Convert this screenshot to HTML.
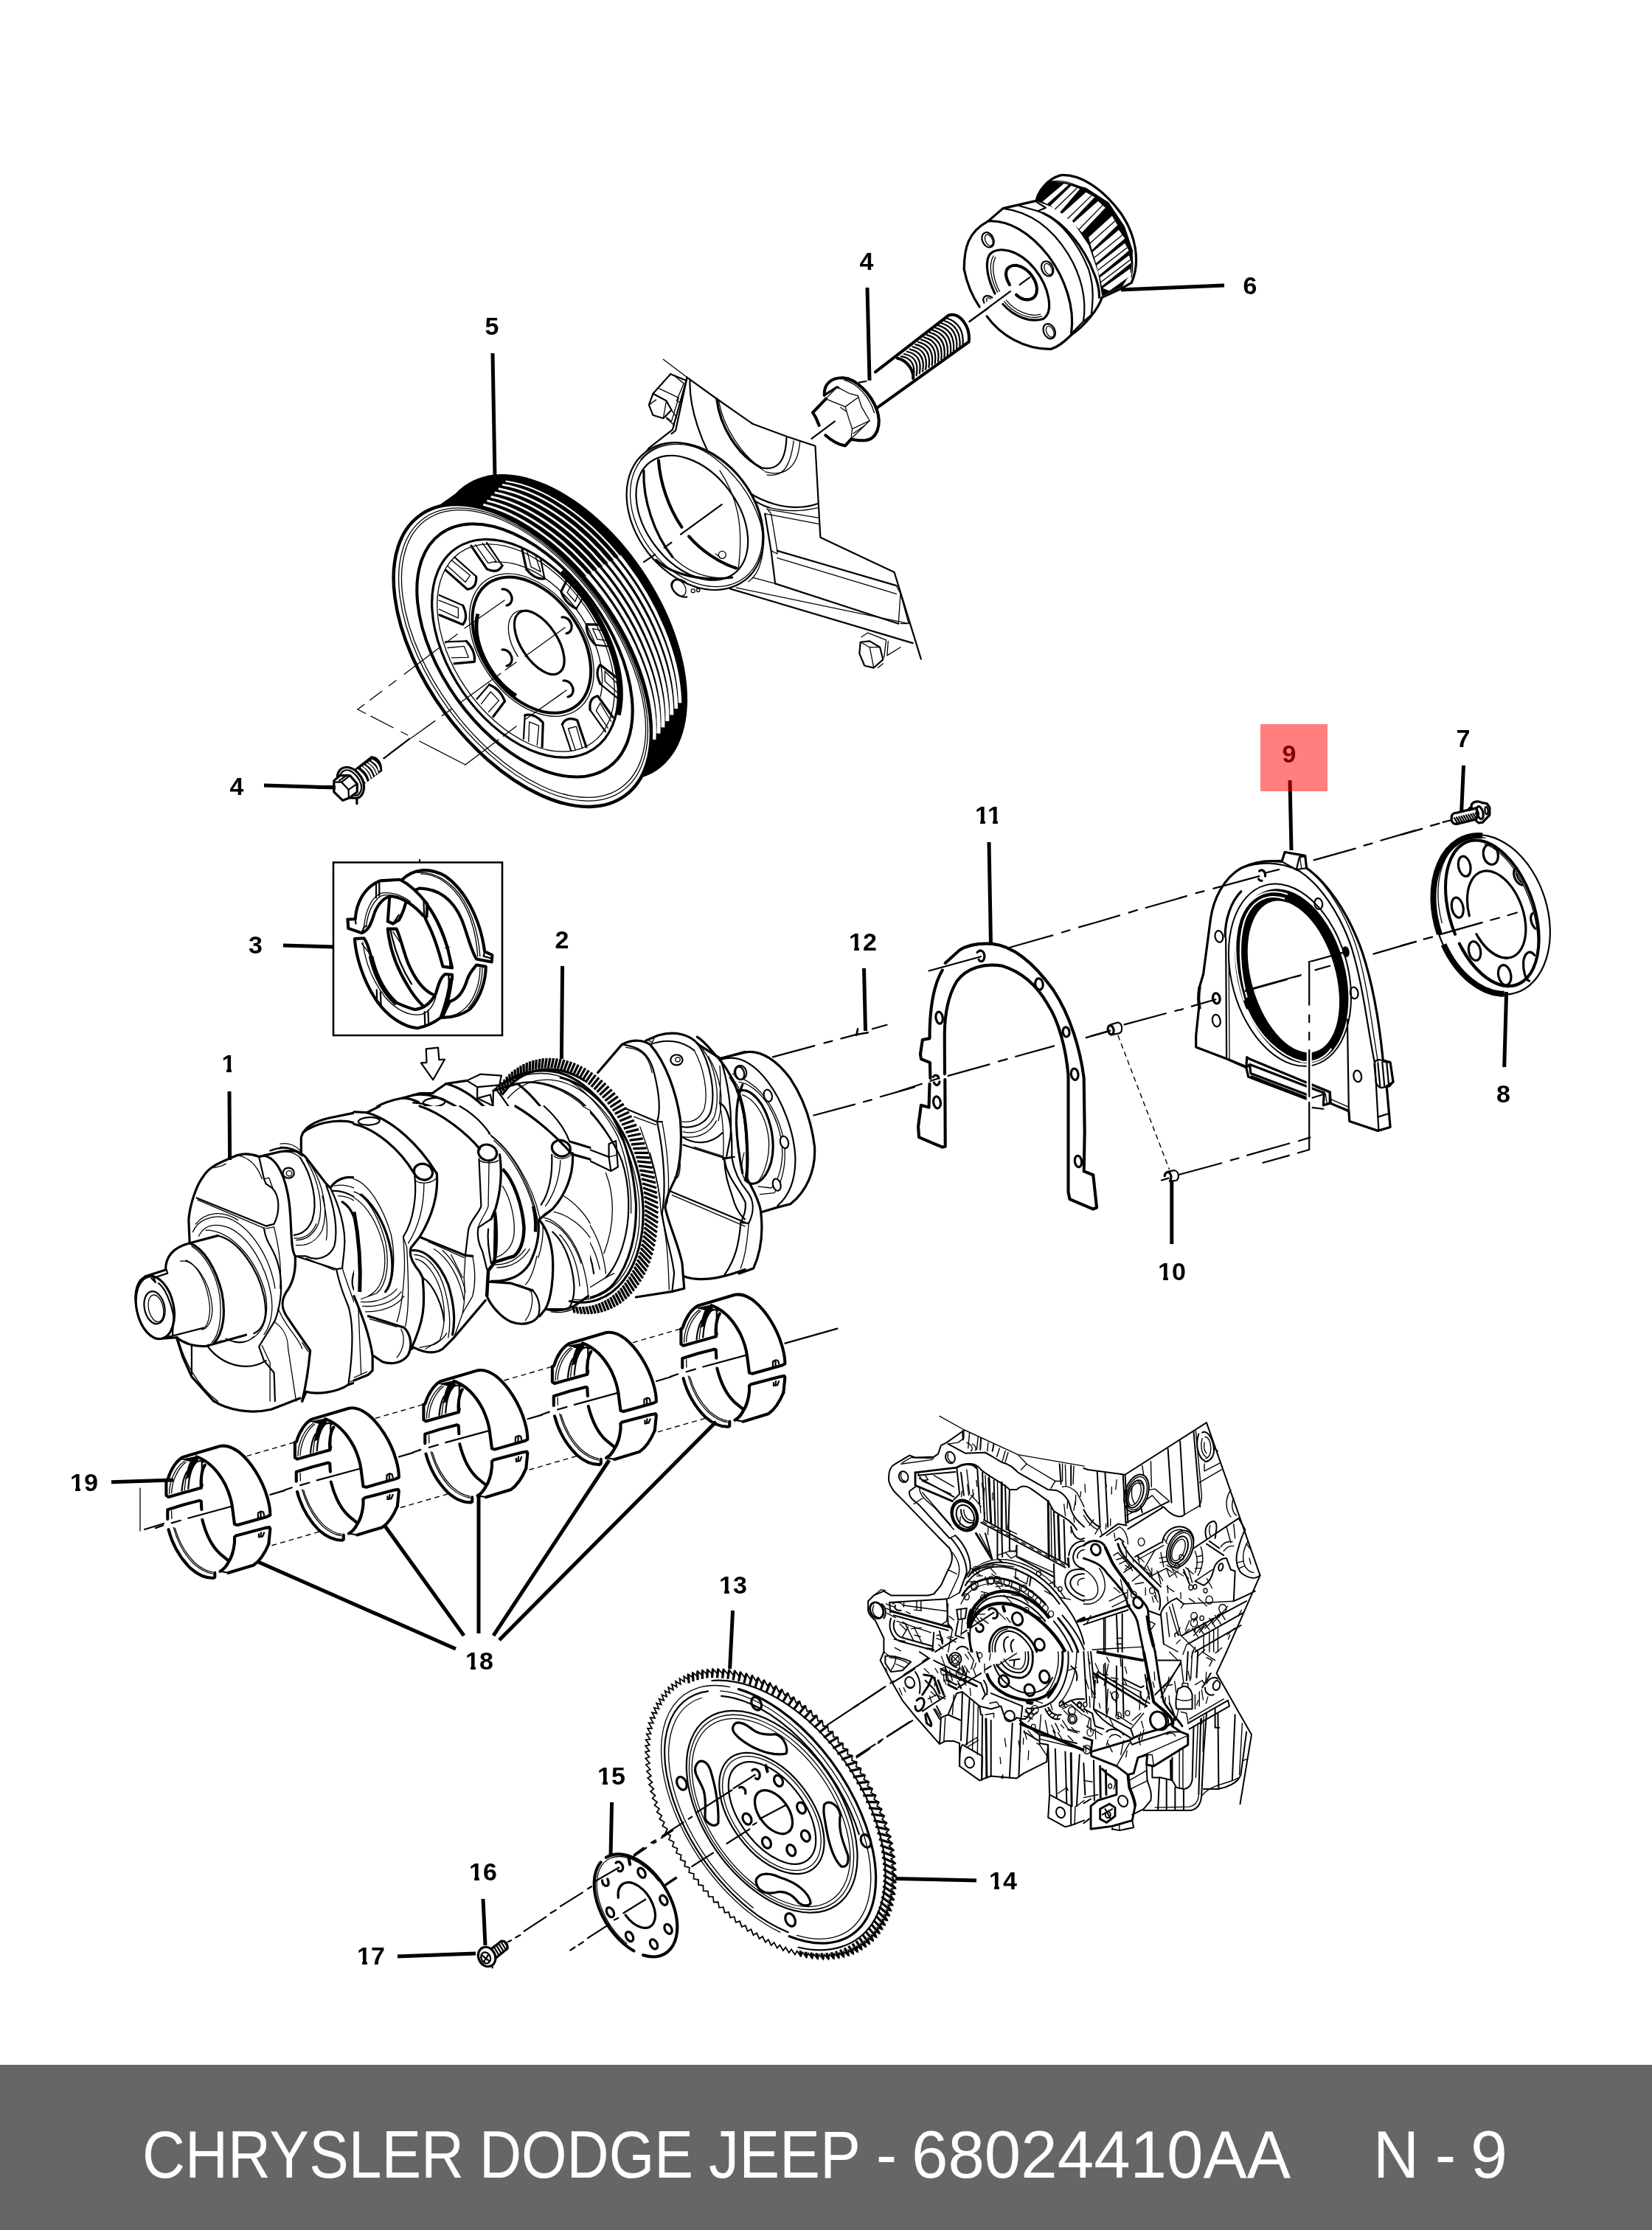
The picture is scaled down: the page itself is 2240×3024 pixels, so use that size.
<!DOCTYPE html>
<html><head><meta charset="utf-8"><title>Parts diagram</title>
<style>
html,body{margin:0;padding:0;background:#fff;}
body{width:2240px;height:3024px;overflow:hidden;font-family:"Liberation Sans",sans-serif;}
svg{display:block;position:absolute;left:0;top:0;}
.l{fill:none;stroke:#000;stroke-width:2.2;stroke-linecap:round;stroke-linejoin:round;}
.t{fill:none;stroke:#000;stroke-width:1.3;stroke-linecap:round;stroke-linejoin:round;}
.m{fill:none;stroke:#000;stroke-width:3.2;stroke-linecap:round;stroke-linejoin:round;}
.h{fill:none;stroke:#000;stroke-width:4.1;stroke-linecap:round;stroke-linejoin:round;}
.w{fill:#fff;stroke:#000;stroke-width:2.2;stroke-linecap:round;stroke-linejoin:round;}
.wm{fill:#fff;stroke:#000;stroke-width:3.2;stroke-linecap:round;stroke-linejoin:round;}
.wt{fill:#fff;stroke:#000;stroke-width:1.3;stroke-linecap:round;stroke-linejoin:round;}
.k{fill:#000;stroke:none;}
.ld{fill:none;stroke:#000;stroke-width:5;stroke-linecap:butt;}
.d{fill:none;stroke:#000;stroke-width:1.6;stroke-dasharray:46 12;}
.ds{fill:none;stroke:#000;stroke-width:1.4;stroke-dasharray:7 5;}
path,ellipse,line,circle,polyline,polygon,rect{vector-effect:non-scaling-stroke;}
.blk .l{stroke-width:2.0;}
.blk .m{stroke-width:2.9;}
.blk .t{stroke-width:1.4;}
.n{font-family:"Liberation Sans",sans-serif;font-weight:bold;font-size:34px;fill:#000;text-anchor:middle;}
</style></head><body>
<svg width="2240" height="3024" viewBox="0 0 2240 3024">
<rect x="0" y="0" width="2240" height="3024" fill="#ffffff"/>
<!-- 00_footer.svg -->
<rect x="0" y="2800" width="2240" height="224" fill="#666666"/>
<g font-family="Liberation Sans, sans-serif" font-size="91" fill="#ffffff" lengthAdjust="spacingAndGlyphs">
<text x="193" y="2953" textLength="436" lengthAdjust="spacingAndGlyphs">CHRYSLER</text>
<text x="650" y="2953" textLength="290" lengthAdjust="spacingAndGlyphs">DODGE</text>
<text x="961" y="2953" textLength="206" lengthAdjust="spacingAndGlyphs">JEEP</text>
<text x="1188" y="2953" textLength="28" lengthAdjust="spacingAndGlyphs">-</text>
<text x="1236" y="2953" textLength="514" lengthAdjust="spacingAndGlyphs">68024410AA</text>
<text x="1862" y="2953" textLength="62" lengthAdjust="spacingAndGlyphs">N</text>
<text x="1946" y="2953" textLength="28" lengthAdjust="spacingAndGlyphs">-</text>
<text x="1994" y="2953" textLength="50" lengthAdjust="spacingAndGlyphs">9</text>
</g>

<!-- 10_sprocket.svg -->
<g transform="translate(1280,220) scale(0.18159)">
<!-- teeth region background black -->
<path class="k" d="M690 290 L720 200 L800 140 L900 150 L1060 190 L1230 300 L1350 480 L1410 660 L1400 820 L1330 930 L1180 1000 L1150 820 L1080 620 L960 440 L820 340 Z"/>
<!-- white tooth faces -->
<g fill="#fff" stroke="none">
<path d="M795 325 L950 175 L1015 200 L865 375Z"/>
<path d="M880 385 L1060 225 L1125 260 L950 445Z"/>
<path d="M965 455 L1150 290 L1205 340 L1030 525Z"/>
<path d="M1080 560 L1255 400 L1295 470 L1105 655Z"/>
<path d="M1110 670 L1305 505 L1350 570 L1135 755Z"/>
<path d="M1140 770 L1350 605 L1380 660 L1158 845Z"/>
<path d="M1165 860 L1382 695 L1398 750 L1178 925Z"/>
<path d="M1185 940 L1390 795 L1395 845 L1235 960Z"/>
<path d="M735 295 L895 160 L930 168 L770 312Z"/>
</g>
<g class="t" stroke="#000">
<path d="M830 350 L990 195"/><path d="M925 420 L1100 250"/><path d="M1010 500 L1185 320"/><path d="M1085 610 L1275 440"/><path d="M1125 710 L1330 545"/><path d="M1150 805 L1365 640"/><path d="M1172 895 L1390 730"/>
</g>
<!-- outer rear rim -->
<path class="m" d="M690 285 C700 230 760 130 870 97 C1010 85 1180 190 1320 380 C1430 540 1470 740 1400 900"/>
<path class="t" d="M780 150 C900 110 1100 190 1270 390 C1380 530 1430 700 1400 860"/>
<!-- flange side -->
<path class="m" d="M150 800 C150 640 180 520 330 440 L440 345 L680 290"/>
<path class="m" d="M330 440 C480 430 640 520 780 700 C900 860 980 1080 950 1280"/>
<path class="l" d="M440 345 C640 370 800 480 930 690 C1020 840 1070 1020 1040 1190"/>
<path class="l" d="M560 325 L700 365 L760 340 L680 290"/>
<path class="m" d="M740 380 C900 450 1050 640 1120 830 C1150 900 1160 960 1160 1010"/>
<path class="l" d="M700 365 C860 420 1000 600 1080 800 C1110 900 1120 980 1100 1140"/>
<path class="m" d="M1400 900 L1330 940 L1180 1010 C1150 1100 1050 1220 950 1290 C900 1340 850 1380 800 1395"/>
<path class="l" d="M1100 1140 L1040 1190 L950 1280"/>
<!-- front face outline -->
<path class="m" d="M150 800 C170 900 210 1000 265 1080"/>
<path class="m" d="M320 1150 C420 1290 600 1400 800 1395"/>
<!-- recess -->
<path class="m" d="M380 980 C330 880 300 760 340 690 C400 620 560 650 680 800 C790 940 820 1120 740 1170 C640 1200 520 1150 440 1060"/>
<path class="t" d="M400 970 C350 880 330 760 370 700"/><path class="t" d="M415 965 C370 880 350 770 385 710"/>
<path class="t" d="M450 1040 C520 1130 640 1180 730 1150"/><path class="t" d="M465 1030 C530 1110 640 1160 720 1135"/>
<path class="h" d="M490 915 C440 830 460 770 540 770 C640 790 710 900 690 980 C670 1040 590 1040 540 990"/>
<!-- holes -->
<ellipse class="l" cx="328" cy="580" rx="42" ry="58" transform="rotate(-25 328 580)"/>
<ellipse class="t" cx="335" cy="582" rx="26" ry="44" transform="rotate(-25 335 582)"/>
<ellipse class="l" cx="772" cy="795" rx="42" ry="58" transform="rotate(-25 772 795)"/>
<ellipse class="t" cx="778" cy="798" rx="26" ry="44" transform="rotate(-25 778 798)"/>
<ellipse class="l" cx="786" cy="1262" rx="42" ry="58" transform="rotate(-25 786 1262)"/>
<ellipse class="t" cx="792" cy="1265" rx="26" ry="44" transform="rotate(-25 792 1265)"/>
<path class="l" d="M300 1050 C280 1010 310 980 360 1010"/><path class="t" d="M320 1040 C310 1015 330 1005 350 1020"/>
<!-- axis line -->
<path class="l" d="M565 915 L640 860"/>
<path class="l" d="M190 1190 L495 965"/>
</g>

<!-- 11_bolt4.svg -->
<g transform="translate(1080,410) scale(0.15738)">
<path class="h" d="M680 600 L1310 112 C1400 80 1500 200 1485 340 L700 905"/>
<path class="h" d="M870 482 C950 500 1010 580 1005 655"/>
<path class="l" d="M902 465 Q1038 489 1007 648"/>
<path class="l" d="M927 445 Q1064 470 1033 630"/>
<path class="l" d="M951 424 Q1089 451 1060 612"/>
<path class="l" d="M976 404 Q1115 432 1087 595"/>
<path class="l" d="M1000 383 Q1140 413 1113 578"/>
<path class="l" d="M1025 363 Q1166 394 1140 560"/>
<path class="l" d="M1049 342 Q1191 375 1167 542"/>
<path class="l" d="M1074 322 Q1217 356 1193 525"/>
<path class="l" d="M1098 301 Q1242 337 1220 508"/>
<path class="l" d="M1122 280 Q1268 318 1247 490"/>
<path class="l" d="M1147 260 Q1294 299 1273 472"/>
<path class="l" d="M1171 239 Q1319 280 1300 455"/>
<path class="l" d="M1196 219 Q1345 261 1327 438"/>
<path class="l" d="M1220 198 Q1370 242 1353 420"/>
<path class="l" d="M1245 178 Q1396 223 1380 402"/>
<path class="l" d="M1269 157 Q1421 204 1407 385"/>
<path class="l" d="M1294 137 Q1447 185 1433 368"/>
<path class="h" d="M240 800 C235 700 300 650 400 650 C520 660 640 790 690 920 C740 1060 690 1180 590 1190 L540 1190"/>
<path class="t" d="M410 670 C530 700 630 820 670 950"/><path class="t" d="M425 665 C545 690 650 800 690 940"/>
<path class="l" d="M540 690 L600 680"/>
<path class="m" d="M240 800 L350 730 L360 735"/>
<path class="t" d="M360 735 L455 785 L530 805 L560 900 L630 1020 L470 1175"/>
<path class="t" d="M255 830 L350 730"/>
<path class="t" d="M230 855 L260 835 L420 900 L530 820"/>
<path class="t" d="M420 900 L450 1000 L480 1090 L470 1175"/>
<path class="t" d="M380 905 L430 940"/>
<path class="t" d="M480 1090 L630 1020"/><path class="t" d="M490 1130 L590 1060"/>
<path class="h" d="M255 830 L140 950 L165 990 L195 1060"/>
<path class="h" d="M250 1145 C300 1190 360 1225 420 1235 L470 1180 L540 1190"/>
<path class="l" d="M130 1175 L330 1025"/>
<path class="l" d="M1490 165 L1652 50"/>
</g>

<!-- 15_cover.svg -->
<g transform="translate(820,460) scale(0.27847)">
<!-- top edge & right side -->
<path class="t" d="M285 98 L400 185"/>
<path class="l" d="M400 185 L545 290 L720 412 L890 475 L1025 520 L1050 965 L1410 1135 L1470 1330 L1540 1557"/>
<!-- left upper boss -->
<path class="l" d="M400 190 L330 440 L215 530 L175 585"/>
<path class="l" d="M415 200 C410 330 470 520 560 640 C640 740 740 800 800 820"/>
<path class="l" d="M400 190 L345 445 L325 460"/>
<path class="l" d="M320 170 L395 200"/><path class="t" d="M335 175 L385 215 L350 300 L370 310"/>
<path class="l" d="M320 170 L235 265"/><path class="t" d="M265 240 L360 285 L325 400 L300 380"/>
<!-- bolt hex -->
<path class="l" d="M235 265 L215 320 L235 370 L285 385 L325 345 L300 300 Z"/>
<path class="t" d="M235 265 L300 300 L285 385"/><path class="t" d="M215 320 L250 295"/>
<path class="t" d="M325 345 L350 380 L335 410"/><path class="t" d="M300 385 L340 420"/>
<!-- inner curve web -->
<path class="m" d="M545 290 C560 420 640 560 760 625"/>
<path class="l" d="M760 625 C820 640 880 620 885 480"/>
<path class="t" d="M780 645 C860 670 940 640 950 500"/><path class="t" d="M790 660 C850 670 900 650 920 495"/>
<path class="t" d="M555 300 C575 420 660 560 775 640"/>
<path class="l" d="M640 700 C740 790 900 850 1040 800"/>
<path class="t" d="M800 820 C880 840 960 840 1040 820"/>
<path class="t" d="M780 850 L1045 900"/><path class="t" d="M800 830 L1045 870"/>
<!-- body -->
<path class="l" d="M780 850 L810 1030 L830 1190"/><path class="t" d="M790 825 L810 850 L840 1030"/>
<path class="t" d="M810 1030 L840 1045 L840 1025"/>
<path class="l" d="M840 1030 L1420 1200"/><path class="l" d="M830 1190 L1430 1385"/>
<path class="t" d="M1420 1200 L1440 1240 L1430 1385"/>
<path class="t" d="M1420 1240 L840 1065"/>
<path class="l" d="M610 1215 L1500 1480"/><path class="t" d="M640 1210 L1480 1385 L1440 1385"/>
<path class="t" d="M720 1160 L830 1190"/>
<path class="t" d="M1440 1240 L1480 1385"/>
<!-- big ring -->
<ellipse class="w" cx="440" cy="862" rx="395" ry="290" transform="rotate(52 440 862)"/>
<ellipse class="t" cx="446" cy="858" rx="383" ry="278" transform="rotate(52 446 858)"/>
<ellipse class="l" cx="425" cy="870" rx="340" ry="225" transform="rotate(53 425 870)"/>
<path class="t" d="M175 585 C220 530 290 500 360 505 C520 520 700 700 760 900 C790 1020 760 1140 700 1180"/>
<path class="h" d="M262 590 C270 700 310 820 375 915"/>
<path class="h" d="M410 960 C470 1030 560 1090 640 1115"/>
<path class="m" d="M190 640 C185 780 240 950 330 1060"/>
<path class="m" d="M250 1075 C330 1150 480 1180 620 1160"/>
<path class="t" d="M330 1060 C420 1150 520 1170 620 1160"/>
<path class="t" d="M560 640 C640 760 680 900 650 1120"/>
<circle class="t" cx="572" cy="1050" r="18"/><path class="t" d="M540 1045 L560 1060"/>
<!-- axis -->
<path class="l" d="M370 950 L570 805"/><path class="l" d="M290 1015 L325 990"/><path class="l" d="M190 1085 L245 1048"/>
<!-- lower stud -->
<path class="l" d="M400 1255 C360 1260 320 1220 325 1190 C335 1160 375 1165 400 1190"/>
<ellipse class="t" cx="362" cy="1212" rx="30" ry="42" transform="rotate(-30 362 1212)"/>
<path class="t" d="M400 1190 L460 1215"/><circle class="t" cx="430" cy="1225" r="9"/><circle class="t" cx="455" cy="1222" r="8"/>
<!-- right-bottom bolt -->
<path class="l" d="M1245 1475 L1240 1530 L1265 1590 L1310 1600 L1355 1560 L1340 1500 L1290 1470 Z"/>
<path class="t" d="M1245 1475 L1290 1500 L1340 1500"/><path class="t" d="M1290 1500 L1310 1600"/>
<path class="t" d="M1250 1450 L1280 1430 L1370 1465 L1360 1550"/>
<path class="t" d="M1380 1470 L1375 1540 L1440 1500"/>
<path class="t" d="M1330 1600 L1355 1580"/>
</g>

<!-- 20_pulley.svg -->
<path class="k" d="M617.7 669.2 A233.0 135.0 56.4 1 1 863.7 1056.4 L803.3 1093.8 L803.3 1093.8 A235.5 130.5 53.7 1 0 552.7 715.5 Z"/>
<path class="" d="M655.3 684.3 A235.3 130.9 53.9 0 1 798.6 782.8" fill="none" stroke="#fff" stroke-width="3.0"/>
<path class="" d="M795.9 779.7 A235.3 130.9 53.9 0 1 886.8 1002.9" fill="none" stroke="#fff" stroke-width="5.2"/>
<path class="" d="M660.4 678.8 A235.0 131.4 54.3 0 1 805.9 778.5" fill="none" stroke="#fff" stroke-width="2.8"/>
<path class="" d="M803.3 775.4 A235.0 131.4 54.3 0 1 892.9 994.7" fill="none" stroke="#fff" stroke-width="5.0"/>
<path class="" d="M665.6 673.3 A234.7 132.0 54.6 0 1 813.3 774.1" fill="none" stroke="#fff" stroke-width="2.8"/>
<path class="" d="M810.7 771.0 A234.7 132.0 54.6 0 1 898.9 986.4" fill="none" stroke="#fff" stroke-width="5.0"/>
<path class="" d="M670.7 667.9 A234.4 132.5 54.9 0 1 820.7 769.8" fill="none" stroke="#fff" stroke-width="2.8"/>
<path class="" d="M818.1 766.7 A234.4 132.5 54.9 0 1 904.9 978.0" fill="none" stroke="#fff" stroke-width="5.0"/>
<path class="" d="M675.8 662.6 A234.1 133.1 55.2 0 1 828.0 765.4" fill="none" stroke="#fff" stroke-width="2.8"/>
<path class="" d="M825.4 762.3 A234.1 133.1 55.2 0 1 910.8 969.5" fill="none" stroke="#fff" stroke-width="5.0"/>
<path class="" d="M681.0 657.3 A233.8 133.6 55.6 0 1 835.4 761.1" fill="none" stroke="#fff" stroke-width="2.6"/>
<path class="" d="M832.8 758.0 A233.8 133.6 55.6 0 1 916.8 961.0" fill="none" stroke="#fff" stroke-width="4.8"/>
<path class="" d="M685.7 652.5 A233.5 134.1 55.9 0 1 842.1 757.2" fill="none" stroke="#fff" stroke-width="2.2"/>
<path class="" d="M839.6 754.0 A233.5 134.1 55.9 0 1 922.1 953.2" fill="none" stroke="#fff" stroke-width="4.4"/>
<ellipse class="" cx="708.3" cy="889.0" rx="235.5" ry="130.5" transform="rotate(53.7 708.3 889.0)" fill="#fff" stroke="#000" stroke-width="4.5"/>
<ellipse class="t" cx="709.5" cy="887.5" rx="228.5" ry="125.5" transform="rotate(53.7 709.5 887.5)" />
<ellipse class="t" cx="710.0" cy="886.5" rx="224.5" ry="122.5" transform="rotate(53.7 710.0 886.5)" />
<ellipse class="h" cx="711.5" cy="882.0" rx="195.0" ry="113.0" transform="rotate(54.3 711.5 882.0)" />
<ellipse class="m" cx="712.0" cy="879.3" rx="165.0" ry="103.0" transform="rotate(55.4 712.0 879.3)" />
<ellipse class="t" cx="713.0" cy="878.5" rx="157.0" ry="98.0" transform="rotate(55.4 713.0 878.5)" />
<path class="" d="M761.2 775.2 A169.0 106.0 55.4 0 1 838.7 969.7" fill="none" stroke="#000" stroke-width="6"/>
<path class="m" d="M604.3 773.1 L633.7 799.1 Q646.7 797.7 645.7 781.8"/>
<path class="l" d="M645.7 781.8 L616.3 755.5"/>
<path class="t" d="M607.1 767.8 L631.1 789.4 L637.5 780.2 L612.5 759.8"/>
<path class="m" d="M639.0 740.3 L660.4 771.8 Q675.1 778.5 681.1 767.0"/>
<path class="l" d="M681.1 767.0 L660.0 735.9"/>
<path class="t" d="M644.5 738.5 L661.9 763.7 L672.9 761.1 L654.0 736.5"/>
<path class="m" d="M708.0 745.2 L713.9 772.3 Q725.7 786.8 738.4 784.6"/>
<path class="l" d="M738.4 784.6 L733.2 758.7"/>
<path class="t" d="M714.9 748.4 L720.1 768.8 L733.1 775.3 L726.3 754.4"/>
<path class="m" d="M768.2 787.2 L760.8 802.2 Q766.8 819.0 781.5 825.3"/>
<path class="l" d="M781.5 825.3 L789.7 811.8"/>
<path class="t" d="M774.4 793.6 L769.1 803.5 L780.0 815.8 L784.1 804.7"/>
<path class="m" d="M812.3 847.1 L795.3 846.7 Q794.5 861.9 807.6 874.7"/>
<path class="l" d="M807.6 874.7 L825.4 876.5"/>
<path class="t" d="M816.4 855.1 L803.6 852.4 L810.1 867.2 L822.3 868.3"/>
<path class="m" d="M835.8 918.8 L813.9 901.5 Q806.0 911.1 814.1 927.6"/>
<path class="l" d="M814.1 927.6 L836.5 945.9"/>
<path class="t" d="M836.5 926.5 L820.1 910.3 L820.3 924.1 L836.8 938.7"/>
<path class="m" d="M831.1 972.7 L810.5 943.8 Q798.1 946.5 800.2 962.8"/>
<path class="l" d="M800.2 962.8 L821.0 992.2"/>
<path class="t" d="M828.8 978.5 L813.8 953.5 L808.3 963.6 L824.3 987.3"/>
<path class="m" d="M795.0 1012.9 L782.7 976.8 Q768.1 970.5 762.3 982.3"/>
<path class="l" d="M762.3 982.3 L774.3 1018.0"/>
<path class="t" d="M789.6 1014.9 L781.4 985.1 L770.5 988.0 L780.3 1017.2"/>
<path class="m" d="M735.1 1012.9 L736.3 979.8 Q723.7 966.2 711.8 969.9"/>
<path class="l" d="M711.8 969.9 L709.9 1001.9"/>
<path class="t" d="M728.2 1010.5 L730.7 984.1 L717.7 978.9 L716.8 1005.5"/>
<path class="m" d="M668.8 971.7 L684.6 950.8 Q678.1 934.0 663.4 928.4"/>
<path class="l" d="M663.4 928.4 L646.7 947.8"/>
<path class="t" d="M662.5 965.5 L676.5 949.9 L665.3 938.0 L652.5 954.7"/>
<path class="m" d="M616.1 899.8 L643.4 897.3 Q645.0 882.5 632.3 869.3"/>
<path class="l" d="M632.3 869.3 L604.1 870.3"/>
<path class="t" d="M612.3 891.8 L635.3 891.3 L629.3 876.4 L606.9 878.5"/>
<path class="m" d="M596.1 833.9 L627.6 846.9 Q635.6 837.4 627.6 820.9"/>
<path class="l" d="M627.6 820.9 L595.6 806.9"/>
<path class="t" d="M595.4 826.2 L621.4 838.1 L621.4 824.3 L595.2 814.1"/>
<path class="t" d="M671.0 762.4 A128.0 82.0 55.0 0 1 814.2 944.3" />
<ellipse class="t" cx="720.8" cy="874.7" rx="107.4" ry="70.3" transform="rotate(54.9 720.8 874.7)" fill="#fff"/>
<ellipse class="" cx="720.8" cy="874.7" rx="102.4" ry="66.8" transform="rotate(54.9 720.8 874.7)" fill="#fff" stroke="#000" stroke-width="4"/>
<path class="" d="M699.8 943.4 A88.4 58.8 54.9 0 1 647.9 832.3" fill="none" stroke="#000" stroke-width="5"/>
<ellipse class="m" cx="731.3" cy="871.4" rx="48.9" ry="24.6" transform="rotate(56.7 731.3 871.4)" />
<path class="t" d="M702.3 890.3 A51.9 29.6 56.7 0 1 740.5 843.9" />
<path class="m" d="M681.0 799.0 a9.5 11.5 -30 1 1 6 22"/>
<path class="m" d="M762.0 837.0 a9.5 11.5 -30 1 1 6 22"/>
<path class="m" d="M681.0 881.0 a9.5 11.5 -30 1 1 6 22"/>
<path class="m" d="M764.0 923.0 a9.5 11.5 -30 1 1 6 22"/>
<path class="t" d="M684 814L630 852"/>
<path class="t" d="M766 851L712 890"/>
<path class="t" d="M768 936L713 975"/>
<path class="t" stroke-dasharray="20 10 60 14 12 12" d="M620 860L485 962"/>
<path class="t" stroke-dasharray="18 8 70 12 16 12 40 14 22 10" d="M700 898L520 1028"/>
<path class="t" stroke-dasharray="22 8 62 4" d="M700 985L631 1037"/>
<path class="t" stroke-dasharray="70 18 10 12 34 8" d="M631 1037L485 962"/>

<!-- 21_bolt4b.svg -->
<g transform="translate(430,1000) scale(0.07869)">
<!-- threaded shaft -->
<path class="k" d="M650 540 L930 320 C1040 320 1130 420 1120 580 L820 800 L750 780 C740 690 700 600 650 540Z"/>
<g fill="none" stroke="#fff" stroke-width="2.6" stroke-linecap="round">
<path d="M700 570 C770 620 820 690 840 760" stroke-width="3.4"/>
<path d="M770 520 C840 570 890 640 910 720"/>
<path d="M810 495 C880 540 930 610 950 680"/>
<path d="M860 460 C930 500 980 570 1000 640"/>
<path d="M900 430 C970 470 1020 540 1040 610"/>
<path d="M950 395 C1020 430 1060 490 1070 560"/>
</g>
<!-- flange -->
<path class="wm" stroke-width="4.5" d="M350 700 C340 580 420 510 520 515 C640 520 760 640 800 790 C830 930 760 1040 680 1045 L560 1040 Z"/>
<path class="l" d="M400 640 C430 570 500 550 560 570 C660 620 730 720 760 820 C780 920 720 1010 650 1000"/>
<!-- hex head -->
<path class="wm" stroke-width="4.5" d="M290 745 L345 700 L390 655 L565 655 L690 800 L690 940 L560 1040 L440 1085 L290 940 Z"/>
<path class="l" d="M380 745 L500 660"/><path class="l" d="M300 770 L420 770 L540 900 L690 800"/>
<path class="l" d="M420 770 L550 670"/><path class="l" d="M540 900 L545 1030"/>
<path class="ld" d="M0 858 L300 858"/>
<path class="m" d="M685 1050 L685 1140"/>
<path class="l" d="M1150 360 L1595 20"/>
</g>

<!-- 25_box3.svg -->
<rect x="452" y="1169.5" width="229" height="234.5" fill="none" stroke="#000" stroke-width="2.6"/>
<path class="l" d="M569 1166 L569 1169"/>
<g transform="translate(440,1155) scale(0.15738)">
<!-- B upper-right (behind) -->
<path class="h" d="M670 240 C760 150 900 130 1040 210 C1200 320 1340 560 1380 860 L1445 890 L1440 950 L1310 925 C1260 850 1230 700 1180 580 C1100 400 980 320 820 315 L780 330"/>
<path class="t" d="M800 180 C950 170 1100 260 1200 420 C1290 570 1330 750 1340 900"/>
<path class="t" d="M830 190 C970 190 1110 290 1200 450 C1280 590 1310 750 1320 900"/>
<path class="l" d="M1380 860 L1370 900 L1440 920"/>
<!-- A upper-left -->
<path class="h" d="M200 583 L265 580 C275 430 350 300 480 250 L650 240 C750 290 830 380 885 450 L880 560"/>
<path class="h" d="M200 583 L205 660 L320 700 C380 680 400 620 420 560 C450 450 520 380 590 385 C680 395 780 470 850 550"/>
<path class="t" d="M340 650 C350 520 400 400 480 360 C560 340 660 370 740 430"/>
<path class="t" d="M360 640 C370 530 420 420 490 380 C560 360 650 385 720 440"/>
<path class="l" d="M445 275 L445 395"/><path class="l" d="M472 268 L472 380"/>
<path class="l" d="M855 430 L858 550"/><path class="l" d="M265 580 L270 620"/>
<path class="l" d="M320 700 L340 650 L360 640"/>
<!-- C -->
<path class="h" d="M560 400 L545 600 L590 620 L640 590 C670 540 690 480 700 440"/>
<path class="l" d="M590 620 L640 545"/>
<!-- D -->
<path class="h" d="M545 665 C560 820 620 1000 720 1160 C760 1230 810 1290 850 1330"/>
<path class="h" d="M545 665 L620 665 C650 720 680 860 720 960 C780 1100 850 1190 930 1228"/>
<path class="l" d="M570 680 C600 830 660 1000 750 1140"/><path class="t" d="M590 690 L650 780"/>
<!-- F -->
<path class="h" d="M880 450 C960 560 1020 700 1060 830 L1100 1000 L1020 990 C990 880 960 760 900 640 C880 600 870 580 865 560"/>
<path class="t" d="M910 480 C980 580 1040 720 1070 840 L1080 990"/><path class="t" d="M1040 830 L1075 820"/>
<!-- E lower-left -->
<path class="h" d="M260 750 C270 900 330 1100 440 1270 C540 1420 680 1510 800 1520 C900 1500 960 1460 1000 1430 C1030 1360 1060 1250 1100 1090 L1100 1060 L1040 1055 C1000 1080 980 1150 960 1220 C920 1300 860 1350 780 1360 C700 1340 650 1310 610 1300 C520 1220 440 1080 400 900 C380 820 360 770 340 745 Z"/>
<path d="M400 900 C440 1080 520 1220 620 1310" fill="none" stroke="#000" stroke-width="6.5"/>
<path class="t" d="M330 780 C350 950 420 1120 520 1250 C620 1370 740 1420 840 1400 C900 1380 940 1320 960 1250"/>
<path class="t" d="M320 790 L390 880"/>
<path class="l" d="M450 1190 L452 1300"/><path class="l" d="M482 1210 L487 1330"/>
<path class="l" d="M862 1380 L866 1500"/><path class="l" d="M892 1370 L897 1480"/>
<path class="l" d="M1070 1070 L1075 1200"/>
<!-- G lower-right -->
<path class="h" d="M1310 975 L1390 990 C1390 1100 1350 1250 1260 1350 C1200 1400 1100 1430 1010 1430 L1080 1290 C1150 1270 1200 1200 1230 1100 C1250 1040 1290 1000 1310 975Z"/>
<path class="t" d="M1340 1000 C1340 1120 1300 1260 1220 1340 C1180 1380 1140 1400 1110 1410"/>
<path class="t" d="M1360 1000 C1360 1120 1320 1260 1240 1345"/>
<path d="M1090 1090 C1080 1200 1050 1320 1010 1430" fill="none" stroke="#000" stroke-width="6"/>
</g>

<!-- 30_crank_a.svg -->
<clipPath id="cpa"><rect x="-100" y="-100" width="1238" height="2000"/></clipPath>
<g transform="translate(170,1540) scale(0.27240)" clip-path="url(#cpa)">
<!-- counterweight 1 (front) body -->
<path class="m" d="M555 98 C600 85 640 95 665 105 L770 80 C830 70 870 75 900 110 L1000 240 L1020 260 C1060 200 1130 195 1180 225 C1290 300 1370 450 1385 560 L1400 570 C1450 500 1520 520 1652 570"/>
<path class="m" d="M1240 1190 L1230 1180 L1225 1200 L1110 1240 C1050 1280 950 1290 900 1275 L880 1322"/>
<path class="m" d="M440 1322 L330 1200 L285 1100 L255 1005 L180 1010 C60 960 20 800 75 720 L100 700 L200 668 C200 600 240 555 320 535 L315 420 C320 350 350 250 390 200 C420 150 480 130 555 98"/>
<!-- snout front ellipse -->
<ellipse class="wm" cx="148" cy="856" rx="92" ry="158" transform="rotate(-12 148 856)"/>
<ellipse class="l" cx="145" cy="856" rx="50" ry="82" transform="rotate(-12 145 856)"/>
<ellipse class="t" cx="152" cy="860" rx="36" ry="68" transform="rotate(-12 152 860)"/>
<path class="l" d="M105 700 L135 692 L150 730 L130 710 M150 705 L210 685 L205 668"/>
<path class="l" d="M165 735 C200 760 230 840 240 900 L235 990"/>
<path class="l" d="M175 1012 L390 957"/>
<path class="t" d="M275 625 C340 610 420 720 432 850 C436 920 410 962 380 966"/>
<path class="t" d="M300 620 C360 640 410 740 420 850 C422 900 410 940 395 955"/>
<!-- seat cylinder -->
<path class="m" d="M320 535 C390 560 450 660 480 780 C500 880 490 980 440 1035"/>
<path class="t" d="M330 550 C400 590 455 700 470 800 C480 900 470 990 430 1030"/>
<path class="m" d="M320 535 L460 498"/>
<path class="m" d="M255 1005 C300 1040 350 1050 400 1048 L600 992"/>
<path class="t" d="M440 1035 L480 1020"/>
<!-- main journal rings behind seat -->
<path class="l" d="M460 498 C560 520 660 660 690 800 C710 900 690 960 640 985"/>
<path class="t" d="M400 470 C520 470 640 600 690 760 C715 850 705 940 660 985"/>
<path class="t" d="M365 500 C390 450 440 430 520 460 C620 510 700 650 725 790 C740 880 720 950 690 990"/>
<path class="t" d="M335 480 C360 420 430 390 510 410 C620 450 720 600 745 760"/>
<path class="t" d="M350 440 C400 380 480 370 560 420"/>
<path class="t" d="M500 1010 C560 1040 620 1030 660 985"/><path class="t" d="M520 1020 C570 1040 610 1030 640 1000"/>
<!-- counterweight face lines -->
<path class="l" d="M355 310 L700 450"/><path class="t" d="M360 320 L690 460"/>
<path class="l" d="M700 450 L740 440 C770 380 770 300 730 260 L700 240 L690 215 L665 105"/>
<path class="t" d="M690 215 L715 210 L735 265"/><path class="t" d="M700 462 L740 455"/>
<path class="l" d="M690 460 C700 540 740 560 760 640 C790 750 770 850 745 920"/>
<path class="t" d="M740 455 C760 540 780 640 770 760"/>
<path class="t" d="M555 98 C600 105 650 130 680 215"/><path class="t" d="M440 160 L480 150 L500 140"/>
<!-- web 1 -->
<path class="m" d="M690 100 C760 110 800 220 815 330 C830 450 820 560 845 600 C850 680 830 740 800 780 C770 830 780 870 810 910 C850 970 900 1040 920 1070 C910 1180 900 1240 880 1322"/>
<path class="l" d="M720 75 C780 50 850 60 880 100"/>
<path class="t" d="M730 90 C790 70 840 80 870 110"/>
<path class="l" d="M745 920 L665 1050 L690 1120 L740 1180 L745 1322"/>
<path class="t" d="M745 930 C790 960 810 1010 810 1060 L850 1322"/>
<path class="t" d="M680 1045 L720 1130 L720 1322"/><path class="t" d="M760 860 C800 960 860 1000 880 1060"/>
<path class="t" d="M880 1030 L910 1075"/>
<!-- oil hole -->
<ellipse class="l" cx="812" cy="186" rx="28" ry="26"/><ellipse class="t" cx="815" cy="188" rx="14" ry="13"/>
<!-- pin journal 1 region -->
<path class="l" d="M870 110 C930 200 960 330 930 420 C910 470 880 490 840 495"/>
<path class="t" d="M900 120 C960 220 990 350 960 440 C940 490 900 520 850 520"/>
<path class="t" d="M920 140 C990 250 1010 380 980 470 C950 530 900 550 850 545"/>
<path class="t" d="M840 510 C890 515 930 490 950 440"/>
<path class="l" d="M1000 250 C1040 350 1060 470 1040 550 C1020 600 960 630 900 600 L845 600"/>
<path class="t" d="M980 300 C1000 380 1010 460 1000 520"/>
<path class="l" d="M850 600 L1050 665 L1080 660"/><path class="t" d="M900 610 L1040 670"/>
<path class="l" d="M1020 260 C1060 340 1100 460 1090 560 C1085 620 1080 640 1080 660"/>
<!-- web 2 / counterweight 2 -->
<path class="m" d="M1080 330 C1130 360 1150 420 1160 520 C1170 620 1160 700 1150 760 C1170 820 1200 900 1215 960 C1230 1050 1240 1120 1240 1190"/>
<path class="l" d="M1050 665 C1070 760 1090 800 1110 850 C1140 950 1130 1100 1110 1240"/>
<path class="t" d="M1080 660 C1110 760 1140 820 1160 900 C1175 1000 1170 1100 1170 1210"/>
<path class="l" d="M1160 630 C1130 680 1120 740 1140 770"/>
<path class="t" d="M1110 1240 L1220 1200"/><path class="t" d="M1120 1225 L1200 1195"/>
<!-- main journal 2 rings -->
<path class="l" d="M1030 275 C1110 270 1200 330 1270 440 C1340 560 1350 700 1300 780 C1270 820 1220 830 1170 810"/>
<path class="t" d="M1040 250 C1130 230 1230 300 1300 420 C1370 540 1380 700 1330 800 C1300 850 1240 870 1190 850"/>
<path class="t" d="M1060 300 C1130 300 1210 360 1270 470 C1320 570 1330 690 1290 760"/>
<path class="t" d="M1180 830 C1240 850 1300 830 1330 780"/><path class="t" d="M1190 870 C1260 890 1320 860 1350 800"/>
<path class="t" d="M1150 230 C1250 270 1340 400 1370 520"/>
<path class="l" d="M1385 560 C1390 650 1380 780 1350 900"/>
<path class="l" d="M1210 900 L1380 950 C1410 960 1420 990 1420 1010 C1410 1060 1380 1100 1350 1110 C1300 1130 1270 1120 1240 1100"/>
<path class="t" d="M1220 910 L1370 960"/><path class="t" d="M1380 950 C1395 1000 1380 1060 1350 1110"/>
<!-- next web (right edge) -->
<path class="m" d="M1240 0 C1340 40 1430 120 1450 200 C1460 260 1440 380 1385 500"/>
<path class="l" d="M1400 0 C1470 50 1520 110 1545 180 C1560 300 1530 400 1470 500 L1400 570"/>
<ellipse class="l" cx="1485" cy="185" rx="52" ry="42" transform="rotate(20 1485 185)"/>
<path class="t" d="M1440 220 C1470 250 1520 240 1545 215"/>
<path class="m" d="M1430 580 C1460 620 1480 700 1480 800 C1480 900 1450 1000 1440 1060"/>
<path class="t" d="M1440 560 C1530 580 1600 700 1620 850 C1630 950 1600 1040 1560 1070"/>
<path class="t" d="M1470 520 C1560 540 1630 600 1652 640"/>
<path class="t" d="M1440 1060 C1490 1080 1550 1080 1590 1050"/><path class="t" d="M1480 1075 C1530 1090 1580 1080 1620 1040"/>
<path class="t" d="M1520 580 C1590 650 1620 760 1610 880"/>
<path class="l" d="M1400 570 L1390 660 L1400 900"/>
<!-- bottom counterweight lower edge lines -->
<path class="l" d="M330 1040 L330 1200"/><path class="l" d="M410 1050 C480 1140 600 1180 700 1120"/>
<path class="t" d="M260 1000 C290 1120 360 1250 460 1322"/>
</g>

<!-- 31_crank_b.svg -->
<clipPath id="cpb"><path d="M-100 -100 H1800 V1500 H881 V367 H-100 Z"/></clipPath>
<g transform="translate(560,1400) scale(0.27240)" clip-path="url(#cpb)">
<!-- arrow -->
<path class="w" d="M65 82 L125 76 L130 136 L158 134 L100 236 L40 152 L68 150 Z"/>
<!-- web top arcs -->
<path class="m" d="M0 312 C120 290 270 380 400 545"/>
<path class="m" d="M100 300 L165 255 L268 240"/>
<path class="m" d="M165 255 C330 300 470 470 600 740 L640 905"/>
<path class="l" d="M0 350 C120 350 250 450 330 620"/>
<ellipse class="l" cx="105" cy="348" rx="55" ry="22" transform="rotate(-5 105 348)"/>
<path class="t" d="M55 355 C80 375 130 375 155 355"/>
<!-- key flat -->
<path class="l" d="M268 240 L335 208 L440 215 L430 262 L320 272 Z"/>
<path class="l" d="M320 272 L320 328 L398 365 L400 290 L430 262"/>
<path class="l" d="M320 328 L385 310 L398 365"/>
<!-- second web -->
<path class="m" d="M400 290 L520 255 C620 330 720 470 790 640"/>
<path class="l" d="M415 285 C520 420 600 560 640 720"/>
<path class="l" d="M520 255 C620 230 740 270 830 340 C930 430 1010 560 1040 640"/>
<path class="t" d="M540 250 C660 240 800 300 900 420 C960 490 1000 560 1020 600"/>
<path class="m" d="M440 260 C520 200 620 180 700 195 C800 210 900 290 980 400 C1060 520 1100 700 1110 850 C1115 1000 1080 1150 1000 1250 C970 1290 920 1310 880 1322"/>
<path class="t" d="M470 245 C560 200 650 195 720 215 C830 250 950 380 1020 520 C1070 640 1090 800 1085 900"/>
<!-- pin holes -->
<ellipse class="l" cx="372" cy="598" rx="50" ry="40" transform="rotate(15 372 598)"/>
<path class="l" d="M325 610 C330 720 340 820 335 880 C310 930 280 960 275 1010 L260 1120"/>
<path class="l" d="M420 615 C440 640 440 700 430 800 C420 860 400 900 400 940"/>
<path class="t" d="M335 640 C360 660 400 655 425 635"/><path class="t" d="M380 650 L375 900"/>
<ellipse class="l" cx="737" cy="582" rx="46" ry="48" transform="rotate(10 737 582)"/>
<path class="l" d="M695 600 C690 700 670 800 640 905"/>
<path class="m" d="M785 600 C800 700 760 800 700 880 L630 940"/>
<path class="t" d="M700 615 C720 635 760 635 780 615"/><path class="t" d="M745 635 C740 740 710 830 660 900"/>
<ellipse class="l" cx="50" cy="690" rx="50" ry="42" transform="rotate(10 50 690)"/>
<path class="l" d="M100 700 C130 760 120 850 90 920 C60 980 30 1010 0 1020"/>
<path class="t" d="M10 735 C40 755 80 745 100 720"/><path class="t" d="M60 740 C70 850 40 950 0 1000"/>
<!-- middle flat lines -->
<path class="l" d="M785 548 L975 620"/><path class="l" d="M800 600 L985 690"/>
<path class="l" d="M975 555 L1010 540 L1020 670 L985 690 L975 620 Z"/><path class="t" d="M975 620 L1015 610"/>
<!-- journal 3 rings (between webs) -->
<path class="m" d="M440 690 C520 780 570 920 550 1050 C540 1110 500 1150 420 1160"/>
<path class="l" d="M410 540 C520 640 600 800 610 940 C615 1030 600 1080 590 1100"/>
<path class="t" d="M380 510 C500 580 600 760 625 900"/><path class="t" d="M395 530 C505 610 590 780 605 900"/>
<path class="l" d="M400 940 C380 1000 380 1100 400 1160 L380 1240"/>
<path class="l" d="M450 760 C510 860 530 1000 490 1100 C470 1130 440 1140 410 1140"/>
<path class="t" d="M420 1170 C470 1170 520 1150 545 1100"/><path class="t" d="M440 1120 C480 1120 510 1100 520 1060"/>
<path class="l" d="M330 980 C320 1080 350 1150 380 1180"/><path class="t" d="M375 960 C360 1040 380 1120 400 1160"/>
<path class="t" d="M405 960 L400 1140"/>
<!-- lower web junction -->
<path class="l" d="M40 1025 L260 1120 L300 1120"/><path class="t" d="M70 1040 L250 1110"/>
<path class="l" d="M275 1010 C270 1100 260 1200 240 1322"/><path class="l" d="M320 1060 C310 1160 360 1250 370 1322"/>
<path class="m" d="M380 1240 C440 1260 520 1250 580 1280 L600 1322"/>
<path class="t" d="M470 1240 L560 1270 L590 1260"/>
<!-- journal 4 rings -->
<path class="m" d="M630 940 C670 980 690 1080 690 1200 L680 1322"/>
<path class="l" d="M650 910 C760 950 850 1080 870 1220 L870 1322"/>
<path class="l" d="M680 900 C790 930 880 1050 900 1200"/><path class="t" d="M660 930 C740 960 830 1080 845 1200 L850 1322"/>
<path class="t" d="M700 890 C820 930 900 1040 930 1180"/>
<path class="t" d="M750 820 C860 900 940 1020 960 1200"/><path class="t" d="M640 960 C720 1000 790 1100 800 1230 L800 1322"/>
<path class="t" d="M960 700 C1000 800 1010 950 950 1100"/>
<path class="l" d="M1040 640 C1080 760 1080 900 1060 1000 C1040 1100 1000 1180 960 1220"/>
<path class="t" d="M880 1270 L960 1220 L1000 1200"/>
<path class="l" d="M0 1090 C60 1120 130 1200 150 1322"/><path class="t" d="M0 1120 C50 1150 100 1220 120 1322"/>
<path class="t" d="M0 1060 C90 1090 180 1200 200 1322"/><path class="h" d="M20 1170 L45 1200 L45 1322"/>
<path class="t" d="M580 870 L600 1000"/><path class="t" d="M600 1000 C620 1060 640 1100 640 1200 L620 1322"/>
<!-- right web (after gear) -->
<path class="m" d="M920 200 L1040 60 C1100 30 1150 40 1180 60 C1260 150 1310 300 1330 430 C1340 550 1330 650 1310 720 C1280 780 1260 820 1255 870 C1270 950 1320 1050 1340 1150 L1350 1275 L1290 1290"/>
<path class="l" d="M1040 60 C1100 70 1170 80 1200 200 C1230 320 1230 400 1215 445"/>
<path class="t" d="M1060 75 C1120 80 1170 100 1190 200"/>
<path class="l" d="M1060 380 L1215 445 L1240 445"/><path class="t" d="M1100 420 L1210 460"/>
<path class="l" d="M1215 445 C1250 600 1260 780 1240 900 C1250 1000 1290 1100 1300 1200 L1290 1290"/>
<path class="t" d="M1240 445 C1270 600 1280 760 1265 850"/><path class="t" d="M1130 470 C1180 600 1220 750 1230 830"/>
<path class="t" d="M1180 600 C1210 700 1230 800 1235 900 C1260 1000 1270 1100 1275 1280"/>
<path class="m" d="M1160 40 L1220 15 C1300 -10 1380 10 1420 60 L1530 130"/>
<path class="l" d="M1180 60 C1260 30 1340 40 1400 90"/><path class="t" d="M1165 35 L1190 50 L1200 30"/>
<ellipse class="l" cx="1312" cy="137" rx="30" ry="26"/><ellipse class="t" cx="1318" cy="135" rx="12" ry="11"/>
<!-- pin 4 rings -->
<path class="l" d="M1420 60 C1480 150 1510 300 1480 400 C1460 450 1400 480 1340 470"/>
<path class="t" d="M1400 90 C1450 180 1470 300 1450 380 C1430 430 1390 450 1340 445"/>
<path class="t" d="M1440 80 C1510 170 1530 320 1500 420 C1470 480 1410 510 1345 495"/>
<path class="t" d="M1345 520 C1420 530 1480 500 1510 440"/><path class="t" d="M1470 120 C1530 220 1550 330 1520 440"/>
<path class="l" d="M1530 130 C1570 250 1590 400 1580 520 L1560 620"/>
<path class="l" d="M1345 560 L1550 625 L1600 620"/><path class="t" d="M1400 570 L1540 615"/>
<path class="l" d="M1340 520 C1400 560 1480 560 1540 500"/>
<path class="l" d="M1280 790 L1652 945"/><path class="t" d="M1290 810 L1652 965"/>
<path class="l" d="M1530 130 L1652 95"/><path class="m" d="M1640 260 C1600 350 1600 500 1640 700"/>
<ellipse class="l" cx="1630" cy="200" rx="30" ry="35" transform="rotate(-10 1630 200)"/>
<path class="l" d="M1550 625 C1550 720 1580 780 1600 850 C1620 900 1640 920 1652 930"/>
<path class="m" d="M1290 1290 L1110 1318"/>
<path class="m" d="M1350 1215 C1420 1240 1520 1230 1652 1180"/>
<path class="t" d="M1300 720 C1320 740 1330 700 1330 650"/>
</g>

<!-- 33_crank_c.svg -->
<g transform="translate(880,1380) scale(0.21792)">
<path class="m" d="M300 120 C350 150 390 210 430 250 C500 330 560 450 590 600 C610 720 615 900 610 1000 C640 1060 680 1120 695 1200 C710 1320 700 1450 650 1560 L560 1592"/>
<path class="l" d="M440 530 C500 560 520 700 515 870 C530 960 560 1020 610 1080 C650 1130 660 1200 620 1280"/>
<path class="l" d="M460 880 L515 870"/><path class="l" d="M470 890 C490 1000 560 1060 600 1150 C605 1200 590 1240 570 1275"/>
<path class="l" d="M570 1285 C560 1400 540 1500 470 1600"/><path class="t" d="M620 1285 C610 1400 600 1480 570 1560"/>
<path class="l" d="M570 1275 L620 1280"/>
<path class="t" d="M440 300 C450 380 440 480 440 530 C460 640 470 760 460 880"/>
<!-- flange -->
<path class="m" d="M440 255 L600 215 C700 200 800 270 880 380 C960 500 1010 640 1030 800 C1040 950 980 1080 880 1160 L800 1180 L700 1210"/>
<path class="l" d="M450 260 C550 230 650 280 740 400 C830 520 900 700 910 860 C915 1000 880 1100 800 1170"/>
<path class="t" d="M520 350 C580 380 640 400 700 470 C780 560 840 700 845 830 C850 940 820 1040 780 1090 L690 1100"/>
<path class="t" d="M560 400 C620 410 680 450 740 540 C800 640 830 750 830 850 C825 950 800 1020 760 1060 L680 1050"/>
<path class="h" d="M550 450 C580 520 605 640 610 800 C615 900 610 980 600 1010"/>
<path class="m" d="M600 1010 C640 1060 720 1030 760 900 C790 780 760 640 700 540 C660 480 610 440 560 455"/>
<path class="t" d="M580 480 C650 500 720 600 740 720 C760 830 730 950 680 1020"/>
<path class="t" d="M500 370 L550 450"/><path class="t" d="M510 360 L560 440"/>
<ellipse class="w" cx="565" cy="345" rx="27" ry="40" transform="rotate(-15 565 345)"/>
<ellipse class="w" cx="740" cy="485" rx="25" ry="38" transform="rotate(-15 740 485)"/>
<ellipse class="w" cx="842" cy="775" rx="25" ry="38" transform="rotate(-15 842 775)"/>
<ellipse class="w" cx="795" cy="1040" rx="24" ry="38" transform="rotate(-15 795 1040)"/>
<path class="t" d="M592 840 C575 900 572 960 592 1000"/>
<!-- dashed leaders right -->
<path class="l" d="M770 245 L1030 175"/><path class="l" d="M1090 158 L1140 145"/><path class="l" d="M1195 130 L1290 105 L1360 95"/><path class="l" d="M1390 70 L1480 45"/>
<path class="l" d="M1300 70 L1292 108"/>
<path class="l" d="M1025 608 L1280 540"/><path class="l" d="M1335 524 L1385 511"/><path class="l" d="M1440 492 L1652 432"/>
</g>

<!-- 34_crank_d.svg -->
<g transform="translate(380,1440) scale(0.21792)">
<path class="m" d="M130 565 L130 470 C150 400 220 370 300 350 L470 315 C560 310 660 340 740 400 C800 450 840 500 870 540"/>
<path class="m" d="M140 440 C220 380 330 360 420 370 C480 380 540 410 590 450"/>
<path class="m" d="M545 315 C600 270 680 240 760 225 L870 195 L950 195"/>
<path class="m" d="M760 225 C800 225 830 235 860 250"/>
<ellipse class="l" cx="552" cy="368" rx="68" ry="26" transform="rotate(-3 552 368)"/>
<path class="t" d="M495 380 C520 400 590 400 615 378"/>
<path class="t" d="M0 510 C50 500 100 520 130 560"/><path class="t" d="M0 530 C50 525 90 540 125 580"/>
</g>

<!-- 35_crank_e.svg -->
<g transform="translate(200,1740) scale(0.43584)">
<path class="m" d="M206 367 C250 395 320 408 385 393 L475 358"/>
<path class="m" d="M925 197 C960 175 1000 110 1050 40"/>
<path class="t" d="M850 195 C900 200 930 170 960 120 C990 80 1000 40 1010 0"/>
<path class="t" d="M880 200 C920 195 950 160 975 120"/>
<path class="m" d="M1050 0 C1050 40 1080 80 1110 100 C1150 125 1200 130 1225 100 C1245 70 1255 30 1260 0"/>
<path class="t" d="M1200 20 C1215 50 1215 90 1200 120"/><path class="t" d="M1170 0 L1200 20 L1240 15"/>
<path class="l" d="M1255 80 C1290 95 1320 95 1340 85"/>
<path class="t" d="M1060 0 C1080 10 1100 10 1120 0"/>
</g>

<!-- 36_crank_f.svg -->
<g transform="translate(480,1500) scale(0.19370)">
<rect x="0" y="0" width="1652" height="1760" fill="#fff" stroke="none"/>
<!-- top arcs -->
<path class="m" d="M0 40 L90 45 L180 0"/>
<path class="m" d="M0 125 C150 160 320 300 420 470"/>
<path class="m" d="M90 45 C280 100 460 280 575 465"/>
<ellipse class="l" cx="105" cy="105" rx="75" ry="27" transform="rotate(-3 105 105)"/>
<path class="m" d="M460 0 C620 50 800 200 880 300"/>
<path class="l" d="M740 0 C830 50 900 120 950 190"/>
<path class="t" d="M940 190 C1100 300 1250 550 1300 780"/><path class="t" d="M960 210 C1110 320 1240 560 1285 790"/><path class="t" d="M980 240 C1100 340 1210 540 1260 720"/>
<path class="m" d="M1130 0 C1300 100 1450 250 1520 330"/><path class="l" d="M1330 0 C1420 80 1480 170 1510 250"/>
<path class="m" d="M1520 250 L1652 290"/><path class="m" d="M1540 340 L1652 372"/><path class="t" d="M1600 0 L1652 30"/>
<!-- pin holes -->
<ellipse class="m" cx="485" cy="460" rx="66" ry="55" transform="rotate(20 485 460)"/>
<ellipse class="m" cx="935" cy="325" rx="66" ry="55" transform="rotate(20 935 325)"/>
<ellipse class="m" cx="1450" cy="295" rx="66" ry="55" transform="rotate(20 1450 295)"/>
<path class="l" d="M425 490 C440 620 420 800 345 915"/><path class="m" d="M580 470 C590 600 560 750 460 915"/><path class="t" d="M490 540 C490 700 450 850 380 960"/><path class="t" d="M430 520 C460 548 540 542 570 510"/>
<path class="l" d="M875 370 L890 700 C870 760 810 800 800 870 L780 1040"/><path class="m" d="M1020 340 C1040 480 1020 620 990 720 L960 790"/><path class="t" d="M945 390 L940 700 C920 760 880 800 870 850"/><path class="t" d="M880 380 C910 402 980 402 1010 380"/>
<path class="l" d="M1385 340 C1390 480 1370 600 1310 690"/><path class="m" d="M1530 330 C1540 480 1480 620 1390 720 L1300 790"/><path class="t" d="M1445 380 C1440 500 1400 620 1340 700"/><path class="t" d="M1400 350 C1430 376 1490 372 1520 340"/>
<!-- journal 2 -->
<path class="t" d="M0 510 C100 540 200 700 260 900 C290 1050 280 1200 240 1280"/>
<path class="t" d="M0 600 C80 620 170 760 220 950 C250 1100 230 1250 160 1310 L50 1350"/>
<path class="t" d="M0 640 C100 700 180 850 210 1000 C230 1150 200 1280 100 1330"/>
<path class="m" d="M50 620 C150 700 230 850 260 1020 C280 1150 260 1250 220 1300"/>
<path d="M0 740 C30 900 50 1100 40 1300" fill="none" stroke="#000" stroke-width="5"/>
<path class="t" d="M50 1370 C150 1380 250 1340 300 1280"/><path class="t" d="M60 1400 C170 1410 280 1370 330 1300"/><path class="t" d="M80 1440 C200 1440 300 1400 350 1330"/>
<path class="t" d="M345 920 C350 1000 360 1100 350 1200 C340 1350 320 1450 300 1510"/><path class="t" d="M345 915 L370 990 C380 1200 390 1400 360 1540"/>
<!-- web junction -->
<path class="m" d="M460 915 L400 990 C380 1040 410 1100 460 1160 L480 1200 C500 1400 490 1500 400 1700"/>
<path class="m" d="M470 920 L780 1045 L830 1050"/><path class="t" d="M520 950 L770 1060"/>
<path class="m" d="M400 1700 L420 1690 C480 1720 560 1740 620 1700 L700 1620 L920 1360"/>
<path class="m" d="M100 1470 L350 1550 C400 1600 410 1680 380 1740 C340 1800 260 1810 200 1790 L140 1750"/>
<path class="t" d="M110 1490 L300 1545"/><path class="t" d="M330 1560 C360 1620 350 1700 300 1760"/>
<path class="m" d="M0 1330 C50 1450 110 1600 130 1750 L130 1850 L100 1880 L0 1920"/><path class="t" d="M30 1400 L50 1880"/><path class="t" d="M0 1900 L90 1860"/>
<!-- journal 3 -->
<path class="m" d="M410 1010 C500 1000 600 1100 660 1250 C700 1380 710 1500 690 1600"/>
<path class="t" d="M420 1040 C520 1040 600 1150 640 1300 C670 1420 680 1520 660 1620"/>
<path class="t" d="M430 1070 C500 1080 570 1170 610 1300 C640 1420 640 1540 600 1640 L500 1700"/>
<path class="l" d="M480 1200 C560 1250 620 1400 630 1500"/>
<path class="t" d="M560 1000 C660 1060 740 1200 770 1360"/><path class="t" d="M620 1010 C700 1080 760 1200 780 1300"/><path class="t" d="M680 1040 L760 1200"/>
<path class="t" d="M460 1690 L560 1670 C600 1650 630 1620 650 1590"/>
<path class="t" d="M780 1045 L770 1200 C780 1300 770 1400 760 1450 L700 1620"/><path class="t" d="M830 1050 C850 1150 850 1250 830 1330 L760 1450"/>
<path class="l" d="M870 850 C860 900 870 960 900 1020 L930 1140"/><path class="l" d="M960 790 L870 850"/><path class="l" d="M940 860 C930 950 950 1050 960 1100 L980 1080 L985 780"/>
<path d="M985 740 C1000 850 1000 1000 980 1100 L940 1150 L930 1330" fill="none" stroke="#000" stroke-width="4.5"/>
<path class="m" d="M930 1330 C960 1400 1030 1480 1100 1510 C1180 1540 1260 1520 1290 1470"/>
<path class="m" d="M950 1230 L1100 1240 L1250 1290"/><path class="l" d="M1250 1290 C1290 1330 1310 1400 1290 1470"/><path class="t" d="M1100 1240 C1150 1250 1200 1260 1240 1300 C1260 1360 1240 1450 1200 1500"/>
<!-- journal 4 -->
<path d="M1040 440 C1120 520 1180 700 1190 850 C1190 950 1160 1020 1120 1050 L990 1090" fill="none" stroke="#000" stroke-width="4.5"/>
<path class="t" d="M1040 560 C1100 650 1130 800 1120 900 C1110 980 1060 1040 990 1060"/>
<path class="m" d="M1290 800 C1300 900 1280 1000 1230 1100 C1180 1180 1100 1230 960 1225"/>
<path class="t" d="M990 1110 C1080 1110 1150 1070 1200 1000"/><path class="t" d="M1000 1130 C1100 1130 1180 1080 1230 1000"/><path class="t" d="M1280 1050 C1260 1150 1230 1220 1200 1250"/>
<path d="M1255 700 C1270 760 1275 820 1270 880" fill="none" stroke="#000" stroke-width="4.5"/>
<!-- web 4 -->
<path class="l" d="M1300 790 L1330 760 L1390 720"/>
<path class="m" d="M1300 800 C1350 860 1380 950 1390 1050 C1400 1200 1380 1350 1340 1420 L1300 1470"/>
<path class="t" d="M1330 780 C1420 800 1520 900 1580 1050 C1620 1150 1640 1280 1640 1350"/><path class="t" d="M1340 800 C1450 830 1540 950 1590 1100"/>
<path class="t" d="M1400 740 C1500 760 1600 840 1652 920"/><path class="t" d="M1470 630 C1550 680 1620 760 1652 820"/>
<path class="l" d="M1390 880 C1470 950 1530 1100 1540 1250 C1545 1330 1530 1380 1500 1420 L1340 1420"/><path class="t" d="M1440 900 C1520 980 1570 1120 1580 1260"/>
<path class="m" d="M1340 1420 C1400 1440 1480 1430 1540 1400 L1640 1330"/><path class="t" d="M1380 1440 C1440 1450 1500 1440 1550 1410"/>
<path class="t" d="M1320 820 C1330 900 1310 1000 1290 1060"/>
</g>

<!-- 37_tonewheel.svg -->
<path d="M677.0 1471.7 L680.0 1483.3 M680.2 1467.5 L682.9 1479.4 M683.5 1463.7 L685.9 1475.7 M686.9 1460.0 L689.0 1472.3 M690.5 1456.5 L692.3 1469.0 M694.1 1453.3 L695.7 1466.0 M698.0 1450.4 L699.2 1463.2 M701.9 1447.7 L702.8 1460.6 M705.9 1445.2 L706.5 1458.2 M710.0 1443.0 L710.3 1456.1 M714.3 1441.0 L714.1 1454.3 M718.6 1439.3 L718.1 1452.6 M723.0 1437.9 L722.2 1451.3 M727.4 1436.8 L726.3 1450.1 M732.0 1435.9 L730.5 1449.2 M736.5 1435.2 L734.7 1448.6 M741.2 1434.9 L739.0 1448.2 M745.9 1434.8 L743.3 1448.1 M750.6 1435.0 L747.7 1448.2 M755.4 1435.4 L752.1 1448.6 M760.2 1436.1 L756.3 1449.5 M765.0 1437.1 L760.6 1450.7 M769.8 1438.4 L764.8 1452.1 M774.6 1439.9 L769.1 1453.7 M779.4 1441.7 L773.3 1455.5 M784.2 1443.7 L777.5 1457.5 M788.9 1446.0 L781.6 1459.8 M793.7 1448.5 L785.8 1462.2 M798.4 1451.3 L789.8 1464.9 M803.0 1454.4 L793.9 1467.7 M807.6 1457.7 L797.9 1470.7 M812.2 1461.2 L801.8 1473.9 M816.7 1464.9 L805.7 1477.3 M821.1 1468.9 L809.5 1480.9 M825.4 1473.1 L813.2 1484.7 M829.7 1477.5 L816.9 1488.6 M833.8 1482.1 L820.5 1492.7 M837.9 1486.9 L824.0 1496.9 M841.9 1491.9 L827.4 1501.3 M845.7 1497.0 L830.7 1505.8 M849.4 1502.4 L833.9 1510.5 M853.0 1507.9 L837.1 1515.2 M856.5 1513.5 L840.1 1520.2 M859.9 1519.3 L843.0 1525.2 M863.1 1525.3 L845.8 1530.4 M866.1 1531.4 L848.5 1535.6 M869.0 1537.5 L851.1 1541.0 M871.8 1543.9 L853.6 1546.4 M874.4 1550.3 L855.9 1552.0 M876.8 1556.8 L858.2 1557.6 M879.1 1563.3 L860.2 1563.3 M881.2 1570.0 L862.2 1569.1 M883.1 1576.7 L864.0 1574.9 M884.9 1583.4 L865.7 1580.8 M886.5 1590.2 L867.2 1586.8 M887.9 1597.1 L868.6 1592.7 M889.1 1603.9 L869.9 1598.7 M890.1 1610.8 L871.0 1604.8 M890.9 1617.6 L872.0 1610.8 M891.6 1624.4 L872.8 1616.9 M892.1 1631.2 L873.4 1622.9 M892.4 1638.0 L873.9 1629.0 M892.4 1644.7 L874.3 1635.0 M892.3 1651.4 L874.4 1641.0 M892.1 1658.0 L874.5 1647.0 M891.6 1664.5 L874.3 1652.9 M890.9 1671.0 L874.0 1658.8 M890.1 1677.3 L873.6 1664.6 M889.0 1683.5 L873.0 1670.4 M887.8 1689.6 L872.2 1676.1 M886.4 1695.6 L871.2 1681.7 M884.8 1701.5 L870.1 1687.2 M883.0 1707.2 L868.8 1692.7 M881.1 1712.7 L867.4 1698.0 M879.0 1718.1 L865.8 1703.2 M876.7 1723.4 L864.0 1708.3 M874.3 1728.4 L862.1 1713.2 M871.7 1733.2 L860.1 1718.0 M868.9 1737.9 L857.8 1722.6 M866.0 1742.4 L855.4 1727.1 M862.9 1746.6 L852.9 1731.5 M859.7 1750.7 L850.2 1735.6 M856.3 1754.5 L847.4 1739.6 M852.9 1758.1 L844.4 1743.3 M849.3 1761.4 L841.3 1746.9 M845.5 1764.5 L838.1 1750.2 M841.7 1767.4 L834.7 1753.4 M837.7 1770.0 L831.2 1756.3 M833.6 1772.4 L827.6 1759.0 M829.5 1774.5 L823.8 1761.5 M825.2 1776.4 L820.0 1763.7 M820.9 1778.0 L816.0 1765.7 M816.5 1779.3 L811.9 1767.4 M812.0 1780.4 L807.8 1768.9 M807.4 1781.2 L803.5 1770.1 M802.8 1781.7 L799.2 1771.0 M798.2 1782.0 L794.8 1771.7 M793.4 1782.0 L790.4 1772.1 M788.7 1781.7 L785.9 1772.2 M783.9 1781.2 L781.3 1772.0 M779.1 1780.4 L776.9 1771.3" fill="none" stroke="#000" stroke-width="3.3" stroke-linecap="butt"/>
<path class="m" d="M681.5 1483.8 A163.7 107.1 75.0 0 1 792.1 1465.0" />
<path class="m" d="M760.2 1461.2 A156.6 102.4 75.0 0 1 772.5 1764.5" />
<path class="t" d="M688.4 1489.5 A152.2 99.5 75.0 1 1 778.5 1762.3" />

<!-- 40_bearings.svg -->
<defs><g id="brg">
<path class="w" stroke="none" d="M140 580 L160 570 C200 430 280 320 360 275 L850 130 C930 115 1020 150 1100 210 C1250 330 1400 560 1470 800 C1500 900 1510 980 1510 1040 L1470 1060 L1080 1170 L1040 1160 L1010 930 C980 700 800 400 610 300 L610 640 L600 680 L170 800 L140 780 Z"/>
<path class="w" stroke="none" d="M1040 1330 L1060 1310 L1440 1210 L1500 1200 L1510 1220 L1490 1420 C1440 1540 1380 1640 1290 1700 L960 1800 L850 1780 C930 1720 1010 1590 1040 1400 Z"/>
<path class="k" d="M330 305 L545 262 L565 325 C500 380 460 460 440 545 L400 565 C405 470 420 400 455 335 Z"/>
<path class="h" d="M140 580 L160 570 C200 430 280 320 360 275 L850 130 C930 115 1020 150 1100 210 C1250 330 1400 560 1470 800 C1500 900 1510 980 1510 1040 L1470 1060 L1080 1170 L1040 1160 L1010 930"/>
<path class="h" stroke-width="5" d="M540 270 C680 320 820 450 920 640 C970 750 1000 850 1010 930"/>
<path class="h" d="M140 580 L140 780 L170 800 L600 680 L610 640"/>
<path class="h" d="M600 680 C590 560 610 440 650 380"/>
<path class="l" d="M630 340 C600 320 560 330 540 340 C480 400 440 520 430 690"/>
<path class="t" d="M180 760 C180 600 250 420 380 330"/><path class="t" d="M210 750 C215 600 280 440 400 340"/>
<path class="l" d="M345 720 C355 600 380 520 410 470"/><path class="t" d="M380 710 L400 540"/>
<path class="l" d="M1350 1090 L1350 1010 L1390 990 L1420 1000 L1430 1040"/><path class="l" d="M1385 1010 L1385 1070"/>
<path class="h" stroke-width="5" d="M158 1092 L158 968 L360 905 L578 848 L600 856 L606 965"/>
<path class="t" d="M213 1085 L210 985"/>
<path class="h" stroke-width="5" d="M170 1230 C220 1420 320 1600 460 1740 C560 1830 660 1870 760 1870 L780 1860 L780 1800"/>
<path class="t" d="M235 1200 C290 1400 380 1560 500 1680 C590 1760 680 1800 750 1810"/>
<path class="t" d="M255 1210 C310 1400 400 1550 515 1665 C600 1740 680 1780 750 1790"/>
<path class="h" stroke-width="5" d="M615 1100 C660 1280 740 1450 850 1550 L960 1640"/>
<path class="h" d="M1040 1330 L1040 1400 C1030 1500 1010 1590 960 1660 C930 1720 890 1760 850 1780"/>
<path class="h" d="M1040 1330 L1060 1310 L1440 1210 L1500 1200 L1510 1220 L1490 1420"/>
<path class="h" d="M1490 1420 C1440 1540 1380 1640 1290 1700 L960 1800"/>
<path class="l" d="M1360 1290 L1360 1330 L1410 1320 L1430 1270"/><path class="l" d="M1390 1270 L1385 1320"/>
<path class="l" d="M430 1080 L1000 925"/>
</g></defs>
<g transform="translate(211.0,1947.6) scale(0.10290)"><path class="ds" d="M1200 262 L1830 80"/><path class="l" d="M1510 770 L1700 715"/><path class="l" d="M210 1145 L330 1110"/><path class="l" d="M0 1210 L100 1175"/></g>
<g transform="translate(385.5,1896.3) scale(0.10290)"><path class="ds" d="M1200 262 L1830 80"/><path class="l" d="M1510 770 L1700 715"/><path class="ds" d="M460 1758 L-206 1950"/><path class="l" d="M210 1145 L330 1110"/><path class="l" d="M0 1210 L100 1175"/></g>
<g transform="translate(560.0,1845.0) scale(0.10290)"><path class="ds" d="M1200 262 L1830 80"/><path class="l" d="M1510 770 L1700 715"/><path class="ds" d="M460 1758 L-206 1950"/><path class="l" d="M210 1145 L330 1110"/><path class="l" d="M0 1210 L100 1175"/></g>
<g transform="translate(734.5,1793.7) scale(0.10290)"><path class="ds" d="M1200 262 L1830 80"/><path class="l" d="M1510 770 L1700 715"/><path class="ds" d="M460 1758 L-206 1950"/><path class="l" d="M210 1145 L330 1110"/><path class="l" d="M0 1210 L100 1175"/></g>
<g transform="translate(909.0,1742.4) scale(0.10290)"><path class="l" d="M1510 770 L2200 575"/><path class="ds" d="M460 1758 L-206 1950"/><path class="l" d="M210 1145 L330 1110"/><path class="l" d="M0 1210 L100 1175"/></g>
<use href="#brg" transform="translate(211.0,1947.6) scale(0.10290)"/>
<use href="#brg" transform="translate(385.5,1896.3) scale(0.10290)"/>
<use href="#brg" transform="translate(560.0,1845.0) scale(0.10290)"/>
<use href="#brg" transform="translate(734.5,1793.7) scale(0.10290)"/>
<use href="#brg" transform="translate(909.0,1742.4) scale(0.10290)"/>
<path class="t" d="M190 2018 L190 2076"/>
<path class="l" d="M196 2074 L222 2066"/>

<!-- 50_gasket.svg -->
<g transform="translate(1220,1250) scale(0.19283)">
<path class="h" d="M300 340 C240 440 210 600 210 820 L160 830 L145 930 L150 965 L212 990 L215 1100"/>
<path class="h" d="M320 290 L420 200 C480 160 560 150 650 155 C800 170 950 300 1080 480 C1200 660 1270 900 1295 1100 L1300 1480 L1295 1755 L1360 1780 L1385 2010 L1360 2020 L1195 1950 L1185 1900 L1185 1080 C1170 900 1120 700 1040 580 C960 440 850 350 720 310 C600 290 470 320 400 420 C340 520 315 640 315 800 L316 1070"/>
<path class="h" d="M318 1110 L320 1580 L300 1585 L135 1515 L130 1440 L150 1290 L205 1305 L210 1140"/>
<path class="m" d="M545 215 C570 185 600 215 595 250 C590 285 565 285 555 265"/>
<ellipse class="m" cx="980" cy="438" rx="27" ry="40" transform="rotate(-8 980 438)"/>
<ellipse class="m" cx="278" cy="675" rx="24" ry="42" transform="rotate(-8 278 675)"/>
<ellipse class="m" cx="1170" cy="775" rx="23" ry="34" transform="rotate(-8 1170 775)"/>
<ellipse class="m" cx="1230" cy="1072" rx="25" ry="40" transform="rotate(-8 1230 1072)"/>
<ellipse class="m" cx="262" cy="1270" rx="25" ry="42" transform="rotate(-8 262 1270)"/>
<ellipse class="m" cx="1255" cy="1685" rx="24" ry="40" transform="rotate(-8 1255 1685)"/>
<path class="m" d="M235 1090 C250 1070 270 1080 275 1100 M240 1130 C255 1160 275 1150 280 1125"/>
<path class="l" d="M205 345 L570 245"/>
<path class="l" d="M775 180 L1075 95"/><path class="l" d="M1140 75 L1195 58"/><path class="l" d="M1260 38 L1395 0"/>
<path class="l" d="M340 1083 L630 1003"/><path class="l" d="M695 982 L755 965"/><path class="l" d="M815 948 L1085 873"/>
<path class="l" d="M0 1190 L155 1140"/><path class="l" d="M215 1120 L275 1100"/>
<path class="l" d="M1310 815 L1480 765"/>
</g>

<!-- 52_seal9.svg -->
<g transform="translate(1600,1120) scale(0.19731)">
<!-- body back plate outline -->
<path class="wm" d="M700 245 L720 180 L860 205 L870 290 C1000 380 1150 580 1250 860 C1330 1100 1370 1350 1395 1610 L1445 1625 L1465 1760 L1420 1790 L1445 2070 L1360 2095 L1165 2030 L1160 1960 L1030 1905 L1030 1830 L910 1780 L880 1790 L880 1880 L470 1725 L455 1660 L320 1600 L110 1520 L110 1440 L130 1250 L130 1120 L160 1020 L210 640 C230 500 300 360 420 290 C500 250 600 235 700 245Z"/>
<path class="l" d="M420 290 C560 240 700 250 820 310 C960 400 1100 600 1180 840 C1260 1100 1290 1400 1340 1640 L1365 2090"/>
<path class="t" d="M880 300 C1010 400 1150 620 1220 860 C1290 1100 1320 1380 1360 1620"/>
<path class="m" d="M310 760 C310 640 350 520 420 450"/>
<path class="l" d="M315 770 L320 1600"/><path class="t" d="M335 900 L340 1605"/>
<path class="l" d="M1150 1330 L1160 1960"/>
<path class="l" d="M320 1600 L340 1605 L460 1655"/>
<path class="l" d="M1030 1905 L1160 1955"/><path class="t" d="M1040 1880 L1155 1930"/>
<path class="l" d="M1360 2000 L1440 1975"/>
<!-- top tab -->
<path class="l" d="M700 245 L800 300 L870 290"/><path class="l" d="M800 300 L820 215 L850 210 L860 205"/>
<path class="t" d="M825 220 L835 295"/><path class="t" d="M620 240 L690 235"/>
<!-- seal ring -->
<ellipse class="k" cx="767" cy="1032" rx="613" ry="369" transform="rotate(74.8 767 1032)"/>
<ellipse cx="755" cy="1025" rx="640" ry="400" transform="rotate(74.8 755 1025)" fill="none" stroke="#000" stroke-width="2"/>
<ellipse cx="780" cy="1036" rx="536" ry="289" transform="rotate(73.9 780 1036)" fill="#fff" stroke="none"/>
<g fill="none" stroke="#fff" stroke-width="2.2">
<path d="M740 470 C600 420 470 480 410 640 C360 800 380 1000 440 1200"/>
<path d="M720 500 C600 460 490 510 440 660 C400 800 410 1000 460 1180"/>
<path d="M460 1260 C540 1440 680 1580 840 1620 C930 1630 1000 1590 1040 1530"/>
</g>
<!-- holes -->
<ellipse class="l" cx="952" cy="535" rx="27" ry="38" transform="rotate(-10 952 535)"/>
<ellipse class="l" cx="268" cy="760" rx="27" ry="40" transform="rotate(-10 268 760)"/>
<ellipse class="l" cx="1197" cy="1148" rx="27" ry="40" transform="rotate(-10 1197 1148)"/>
<ellipse class="l" cx="250" cy="1338" rx="27" ry="42" transform="rotate(-10 250 1338)"/>
<ellipse class="l" cx="1220" cy="1720" rx="27" ry="40" transform="rotate(-10 1220 1720)"/>
<ellipse class="k" cx="1140" cy="865" rx="24" ry="38" transform="rotate(-10 1140 865)"/>
<ellipse class="m" cx="250" cy="1185" rx="24" ry="36" transform="rotate(-10 250 1185)"/>
<path class="m" d="M545 310 C570 290 590 320 585 350 C575 385 550 380 540 365" stroke-dasharray="14 8"/>
<path class="h" d="M135 1110 C125 1160 125 1210 135 1250"/>
<!-- bottom rail -->
<path class="m" d="M460 1590 L475 1600 L1030 1830 L1035 1905 L985 1920 L990 1835 L480 1640 L455 1660 L460 1590"/>
<path class="m" d="M480 1640 L485 1700 L880 1850"/><path class="l" d="M490 1720 L870 1865"/>
<path class="l" d="M905 1870 L985 1845"/><path class="l" d="M905 1935 L985 1945"/>
<path class="t" d="M1000 1840 L1010 1910"/>
<!-- clip right -->
<path class="l" d="M1335 1640 C1340 1600 1380 1600 1400 1620 L1445 1625 L1465 1760 L1440 1790 L1380 1800 C1350 1790 1345 1760 1345 1740 Z" fill="#fff"/>
<path class="l" d="M1360 1630 L1375 1790"/><path class="l" d="M1390 1625 L1405 1785"/><path class="l" d="M1420 1625 L1435 1780"/>
<!-- leader 9 tail + bracket lines -->
<path class="l" d="M450 1130 L830 1025" stroke="#fff" stroke-width="6"/>
<path class="l" d="M450 1135 L735 1055"/><path class="l" d="M780 1040 L825 1028"/><path class="l" d="M930 990 L1030 962"/>
<path class="l" d="M885 935 L1150 862"/>
<path d="M888 935 L888 2225" fill="none" stroke="#fff" stroke-width="7"/>
<path class="l" d="M888 935 L888 1230"/><path class="l" d="M888 1300 L888 1350"/><path class="l" d="M888 1420 L888 1470"/><path class="l" d="M888 1540 L888 1860"/><path class="l" d="M888 1900 L888 2225"/>
<path class="l" d="M888 2225 L810 2248"/><path class="l" d="M750 2265 L570 2315"/>
<path class="l" d="M80 1240 L245 1192"/><path class="l" d="M0 1265 L20 1258"/>
<path class="l" d="M230 430 L545 345"/><path class="l" d="M590 322 L680 300"/><path class="l" d="M110 462 L165 448"/><path class="l" d="M0 495 L45 482"/>
<path class="l" d="M920 235 L1205 155"/><path class="l" d="M1265 135 L1320 120"/><path class="l" d="M1380 100 L1622 30"/>
<path class="l" d="M1330 880 L1622 795"/>
</g>

<!-- 54_plate8.svg -->
<g transform="translate(1900,1060) scale(0.14528)">
<ellipse class="w" cx="841.0" cy="1242.0" rx="764.0" ry="522.0" transform="rotate(72.5 841.0 1242.0)" />
<path class="" d="M961.6 1981.4 A758.0 516.0 72.5 0 1 395.9 1520.3" fill="none" stroke="#000" stroke-width="8"/>
<path class="" d="M357.1 1422.3 A758.0 516.0 72.5 0 1 757.5 504.3" fill="none" stroke="#000" stroke-width="8"/>
<path class="t" d="M379.8 1319.3 A740.0 470.0 72.0 0 1 783.0 525.0" />
<path class="h" d="M502.4 1423.2 A706.0 393.0 71.3 1 1 564.9 1554.5" />
<path class="h" d="M1136.6 1864.7 A706.0 393.0 71.3 0 1 542.6 1512.0" />
<path class="t" d="M780.5 584.5 A690.0 345.0 71.0 0 1 1237.6 1744.8" />
<path class="m" d="M635.3 1252.7 A423.0 247.0 70.1 1 1 720.0 1454.0" />
<path class="m" d="M990.5 1645.3 A423.0 247.0 70.1 0 1 701.9 1423.2" />
<ellipse class="m" cx="835" cy="680" rx="68" ry="95" transform="rotate(-12 835 680)"/>
<ellipse class="m" cx="590" cy="790" rx="56" ry="95" transform="rotate(-12 590 790)"/>
<ellipse class="m" cx="525" cy="1175" rx="53" ry="95" transform="rotate(-12 525 1175)"/>
<ellipse class="m" cx="685" cy="1580" rx="55" ry="90" transform="rotate(-12 685 1580)"/>
<ellipse class="m" cx="965" cy="1805" rx="58" ry="95" transform="rotate(-12 965 1805)"/>
<path class="m" d="M1245 1620 C1200 1560 1150 1600 1140 1680 C1135 1760 1160 1850 1195 1860"/>
<path class="m" d="M1055 820 C1040 880 1070 950 1130 965"/><path class="l" d="M1075 860 C1085 900 1100 930 1125 940"/>
<path class="m" d="M1225 1230 C1195 1260 1210 1330 1250 1370"/>
<path class="l" d="M365 1425 L755 1315" stroke="#fff" stroke-width="7"/>
<path class="l" d="M365 1425 L755 1315"/><path class="l" d="M835 1292 L915 1270"/><path class="l" d="M995 1248 L1080 1222"/>
<path class="l" d="M210 1470 L290 1450"/><path class="l" d="M0 1530 L130 1495"/>
<path class="wm" stroke-width="4.5" d="M470 330 C470 300 500 290 520 290 L700 245 L720 300 L700 350 L520 395 C480 400 465 370 470 330 Z"/>
<path class="l" d="M495 338 L523 385"/>
<path class="l" d="M517 333 L545 379"/>
<path class="l" d="M539 328 L567 374"/>
<path class="l" d="M561 323 L589 368"/>
<path class="l" d="M583 318 L611 363"/>
<path class="l" d="M605 313 L633 357"/>
<path class="l" d="M627 308 L655 352"/>
<path class="l" d="M649 303 L677 346"/>
<path class="l" d="M671 298 L699 341"/>
<path class="l" d="M693 293 L721 335"/>
<path class="wm" stroke-width="4.5" d="M655 215 C675 180 720 180 750 195 L800 205 L825 240 L825 310 L760 380 L725 385 C690 370 700 350 700 350 L720 300 L700 245 L630 265 C625 255 640 240 655 245 Z"/>
<ellipse class="m" cx="735" cy="290" rx="28" ry="60" transform="rotate(-15 735 290)"/>
<ellipse class="l" cx="795" cy="270" rx="14" ry="35" transform="rotate(-5 795 270)"/>
<path class="l" d="M0 495 L195 440"/><path class="l" d="M275 412 L355 390"/><path class="l" d="M390 378 L465 360"/>
</g>

<!-- 56_dowels.svg -->
<g transform="translate(1480,1370) scale(0.19370)">
<path class="ds" d="M185 175 L545 1115"/>
<path class="l" d="M0 180 L125 145"/><path class="l" d="M230 100 L520 22"/><path class="l" d="M585 5 L610 -2"/>
<path class="w" d="M135 100 L185 85 C205 90 215 110 212 135 C210 150 200 160 190 162 L140 172"/>
<ellipse class="m" cx="135" cy="138" rx="20" ry="32" transform="rotate(-12 135 138)" fill="#fff"/>
<path class="l" d="M615 1150 L910 1070"/><path class="l" d="M975 1050 L1030 1035"/><path class="l" d="M1090 1015 L1385 932"/><path class="l" d="M1450 915 L1530 890"/>
<path class="l" d="M490 1190 L540 1175"/>
<path class="w" d="M535 1130 L580 1120 C600 1125 612 1145 608 1170 C605 1185 598 1190 590 1192 L560 1195"/>
<path class="m" d="M512 1160 C515 1135 535 1125 548 1140 C560 1155 560 1180 550 1195"/>
</g>
<!-- 12 marker -->
<path class="l" d="M1163 1395 L1161 1404"/><path class="l" d="M1161 1403 L1177 1400"/>
<path class="ld" d="M1171.5 1313 L1173.5 1398"/>

<!-- 58_axis.svg -->
<path class="l" d="M1489 1250 L1518 1241.4"/><path class="l" d="M1530.7 1237.6 L1542 1234"/><path class="l" d="M1553.6 1231 L1601 1217.5"/>

<!-- 60_flywheel.svg -->
<ellipse class="" cx="1045.0" cy="2460.0" rx="221.5" ry="136.2" transform="rotate(54.4 1045.0 2460.0)" fill="#fff" stroke="none"/>
<path d="M1173.9 2640.1 L1167.2 2636.1 L1168.5 2643.7 L1161.8 2639.4 L1162.8 2646.8 L1156.2 2642.2 L1156.9 2649.6 L1150.3 2644.7 L1150.7 2651.9 L1144.2 2646.7 L1144.2 2653.7 L1137.8 2648.3 L1137.5 2655.1 L1131.2 2649.4 L1130.6 2656.1 L1124.5 2650.2 L1123.5 2656.7 L1117.5 2650.5 L1116.3 2656.8 L1110.4 2650.4 L1108.9 2656.4 L1103.2 2649.8 L1101.3 2655.6 L1095.8 2648.8 L1093.6 2654.4 L1088.3 2647.4 L1085.8 2652.7 L1080.7 2645.6 L1077.9 2650.6 L1073.0 2643.3 L1069.9 2648.0 L1065.2 2640.6 L1061.9 2645.1 L1057.5 2637.5 L1053.8 2641.7 L1049.6 2634.1 L1045.7 2637.9 L1041.8 2630.2 L1037.7 2633.7 L1034.0 2625.9 L1029.6 2629.1 L1026.2 2621.3 L1021.5 2624.1 L1018.4 2616.3 L1013.6 2618.7 L1010.7 2610.9 L1005.7 2613.0 L1003.1 2605.2 L997.8 2606.9 L995.6 2599.2 L990.1 2600.5 L988.2 2592.8 L982.5 2593.8 L980.9 2586.2 L975.1 2586.8 L973.8 2579.3 L967.8 2579.5 L966.8 2572.1 L960.7 2571.9 L960.0 2564.6 L953.7 2564.1 L953.4 2556.9 L947.0 2556.0 L947.0 2549.0 L940.5 2547.8 L940.8 2540.9 L934.3 2539.3 L934.9 2532.6 L928.2 2530.6 L929.2 2524.1 L922.5 2521.8 L923.7 2515.5 L917.0 2512.8 L918.6 2506.8 L911.9 2503.8 L913.7 2497.9 L907.0 2494.6 L909.1 2489.0 L902.4 2485.3 L904.9 2480.0 L898.2 2476.0 L900.9 2471.0 L894.3 2466.7 L897.3 2461.9 L890.7 2457.3 L894.0 2452.9 L887.5 2447.9 L891.1 2443.8 L884.6 2438.6 L888.5 2434.8 L882.1 2429.3 L886.3 2425.8 L880.0 2420.1 L884.4 2417.0 L878.2 2411.0 L882.9 2408.2 L876.9 2402.0 L881.7 2399.5 L875.9 2393.1 L880.9 2391.0 L875.3 2384.4 L880.5 2382.6 L875.0 2375.8 L880.5 2374.4 L875.2 2367.4 L880.8 2366.4 L875.7 2359.3 L881.5 2358.6 L876.7 2351.4 L882.6 2351.1 L878.0 2343.7 L884.1 2343.8 L879.6 2336.2 L885.9 2336.7 L881.7 2329.1 L888.1 2329.9 L884.1 2322.3 L890.6 2323.5 L886.9 2315.7 L893.5 2317.3 L890.1 2309.5 L896.7 2311.5 L893.6 2303.7 L900.3 2306.0 L897.4 2298.2 L904.1 2300.8 L901.6 2293.0 L908.3 2296.0 L906.1 2288.3 L912.9 2291.6 L910.9 2283.9 L917.7 2287.5 L916.1 2279.9 L922.8 2283.9 L921.5 2276.3 L928.2 2280.6 L927.2 2273.2 L933.8 2277.8 L933.1 2270.4 L939.7 2275.3 L939.3 2268.1 L945.8 2273.3 L945.8 2266.3 L952.2 2271.7 L952.5 2264.9 L958.8 2270.6 L959.4 2263.9 L965.5 2269.8 L966.5 2263.3 L972.5 2269.5 L973.7 2263.2 L979.6 2269.6 L981.1 2263.6 L986.8 2270.2 L988.7 2264.4 L994.2 2271.2 L996.4 2265.6 L1001.7 2272.6 L1004.2 2267.3 L1009.3 2274.4 L1012.1 2269.4 L1017.0 2276.7 L1020.1 2272.0 L1024.8 2279.4 L1028.1 2274.9 L1032.5 2282.5 L1036.2 2278.3 L1040.4 2285.9 L1044.3 2282.1 L1048.2 2289.8 L1052.3 2286.3 L1056.0 2294.1 L1060.4 2290.9 L1063.8 2298.7 L1068.5 2295.9 L1071.6 2303.7 L1076.4 2301.3 L1079.3 2309.1 L1084.3 2307.0 L1086.9 2314.8 L1092.2 2313.1 L1094.4 2320.8 L1099.9 2319.5 L1101.8 2327.2 L1107.5 2326.2 L1109.1 2333.8 L1114.9 2333.2 L1116.2 2340.7 L1122.2 2340.5 L1123.2 2347.9 L1129.3 2348.1 L1130.0 2355.4 L1136.3 2355.9 L1136.6 2363.1 L1143.0 2364.0 L1143.0 2371.0 L1149.5 2372.2 L1149.2 2379.1 L1155.7 2380.7 L1155.1 2387.4 L1161.8 2389.4 L1160.8 2395.9 L1167.5 2398.2 L1166.3 2404.5 L1173.0 2407.2 L1171.4 2413.2 L1178.1 2416.2 L1176.3 2422.1 L1183.0 2425.4 L1180.9 2431.0 L1187.6 2434.7 L1185.1 2440.0 L1191.8 2444.0 L1189.1 2449.0 L1195.7 2453.3 L1192.7 2458.1 L1199.3 2462.7 L1196.0 2467.1 L1202.5 2472.1 L1198.9 2476.2 L1205.4 2481.4 L1201.5 2485.2 L1207.9 2490.7 L1203.7 2494.2 L1210.0 2499.9 L1205.6 2503.0 L1211.8 2509.0 L1207.1 2511.8 L1213.1 2518.0 L1208.3 2520.5 L1214.1 2526.9 L1209.1 2529.0 L1214.7 2535.6 L1209.5 2537.4 L1215.0 2544.2 L1209.5 2545.6 L1214.8 2552.6 L1209.2 2553.6 L1214.3 2560.7 L1208.5 2561.4 L1213.3 2568.6 L1207.4 2568.9 L1212.0 2576.3 L1205.9 2576.2 L1210.4 2583.8 L1204.1 2583.3 L1208.3 2590.9 L1201.9 2590.1 L1205.9 2597.7 L1199.4 2596.5 L1203.1 2604.3 L1196.5 2602.7 L1199.9 2610.5 L1193.3 2608.5 L1196.4 2616.3 L1189.7 2614.0 L1192.6 2621.8 L1185.9 2619.2 L1188.4 2627.0 L1181.7 2624.0 L1183.9 2631.7 L1177.1 2628.4 L1179.1 2636.1 L1172.3 2632.5Z" fill="none" stroke="#000" stroke-width="1.8" stroke-linejoin="miter"/>
<path d="M1173.9 2640.1 L1165.6 2628.2 M1168.5 2643.7 L1161.0 2632.1 M1162.8 2646.8 L1156.0 2635.6 M1156.9 2649.6 L1150.7 2638.7 M1150.7 2651.9 L1145.2 2641.5 M1144.2 2653.7 L1139.5 2643.8 M1137.5 2655.1 L1133.4 2645.8 M1130.6 2656.1 L1127.2 2647.3 M1123.5 2656.7 L1120.6 2648.2 M1116.3 2656.8 L1113.8 2648.4 M1108.9 2656.4 L1106.8 2648.3 M1101.3 2655.6 L1099.7 2647.7 M1093.6 2654.4 L1092.4 2646.7 M1085.8 2652.7 L1085.0 2645.3 M933.1 2270.4 L934.2 2282.5 M939.3 2268.1 L940.0 2280.2 M945.8 2266.3 L946.0 2278.2 M952.5 2264.9 L952.3 2276.7 M959.4 2263.9 L958.8 2275.5 M966.5 2263.3 L965.5 2275.1 M973.7 2263.2 L972.5 2275.3 M981.1 2263.6 L979.6 2275.8 M988.7 2264.4 L986.8 2276.8 M996.4 2265.6 L994.1 2278.2 M1004.2 2267.3 L1001.5 2280.0 M1012.1 2269.4 L1008.9 2282.2 M1020.1 2272.0 L1016.4 2284.8 M1028.1 2274.9 L1024.0 2287.8 M1036.2 2278.3 L1031.5 2291.1 M1044.3 2282.1 L1039.0 2294.8 M1052.3 2286.3 L1046.5 2298.9 M1060.4 2290.9 L1054.0 2303.3 M1068.5 2295.9 L1061.4 2308.0 M1076.4 2301.3 L1068.7 2313.1 M1084.3 2307.0 L1076.0 2318.5 M1092.2 2313.1 L1083.2 2324.1 M1099.9 2319.5 L1090.2 2330.1 M1107.5 2326.2 L1097.1 2336.3 M1114.9 2333.2 L1103.9 2342.8 M1122.2 2340.5 L1110.6 2349.5 M1129.3 2348.1 L1117.0 2356.4 M1136.3 2355.9 L1123.3 2363.6 M1143.0 2364.0 L1129.4 2370.9 M1149.5 2372.2 L1135.4 2378.4 M1155.7 2380.7 L1141.1 2386.1 M1161.8 2389.4 L1146.5 2394.0 M1167.5 2398.2 L1151.8 2401.9 M1173.0 2407.2 L1156.8 2410.0 M1178.1 2416.2 L1161.5 2418.2 M1183.0 2425.4 L1166.0 2426.5 M1187.6 2434.7 L1170.3 2434.9 M1191.8 2444.0 L1174.2 2443.3 M1195.7 2453.3 L1177.9 2451.7 M1199.3 2462.7 L1181.3 2460.2 M1202.5 2472.1 L1184.4 2468.7 M1205.4 2481.4 L1187.2 2477.2 M1207.9 2490.7 L1189.6 2485.6 M1210.0 2499.9 L1191.8 2494.0 M1211.8 2509.0 L1193.6 2502.3 M1213.1 2518.0 L1195.2 2510.6 M1214.1 2526.9 L1196.3 2518.8 M1214.7 2535.6 L1197.2 2526.8 M1215.0 2544.2 L1197.7 2534.8 M1214.8 2552.6 L1197.9 2542.6 M1214.3 2560.7 L1197.8 2550.2 M1213.3 2568.6 L1197.3 2557.7 M1212.0 2576.3 L1196.5 2564.9 M1210.4 2583.8 L1195.3 2572.0 M1208.3 2590.9 L1193.8 2578.9 M1205.9 2597.7 L1192.0 2585.5 M1203.1 2604.3 L1189.9 2591.8 M1199.9 2610.5 L1187.4 2597.9 M1196.4 2616.3 L1184.5 2603.8 M1192.6 2621.8 L1181.4 2609.3 M1188.4 2627.0 L1177.9 2614.5 M1183.9 2631.7 L1174.1 2619.4 M1179.1 2636.1 L1170.0 2624.0" fill="none" stroke="#000" stroke-width="3.3"/>
<path class="l" d="M965.4 2279.0 A206.0 126.0 54.4 1 1 1082.5 2640.8" />
<path class="m" d="M1001.5 2290.6 A198.3 110.9 55.2 1 1 1070.2 2625.7" />
<path class="t" d="M1057.6 2620.2 A198.3 110.9 55.2 0 1 989.5 2287.6" />
<path class="l" d="M1068.7 2620.2 A191.3 105.9 55.2 0 1 960.0 2293.3" />
<path class="t" d="M976.6 2292.9 A191.3 105.9 55.2 1 1 1080.6 2624.3" />
<path class="t" d="M1021.3 2587.0 A184.3 100.9 55.2 0 1 951.3 2302.5" />
<path class="l" d="M978.1 2299.8 A184.3 100.9 55.2 0 1 1164.8 2487.3" />
<ellipse class="l" cx="1046.7" cy="2456.8" rx="154.0" ry="92.0" transform="rotate(55.2 1046.7 2456.8)" />
<ellipse class="t" cx="1046.0" cy="2457.5" rx="149.0" ry="88.0" transform="rotate(55.2 1046.0 2457.5)" />
<ellipse class="t" cx="1045.5" cy="2458.0" rx="144.0" ry="84.0" transform="rotate(55.2 1045.5 2458.0)" />
<ellipse class="l" cx="1046.4" cy="2459.0" rx="93.8" ry="54.8" transform="rotate(53.4 1046.4 2459.0)" />
<ellipse class="t" cx="1046.4" cy="2459.0" rx="88.8" ry="50.8" transform="rotate(53.4 1046.4 2459.0)" />
<ellipse class="l" cx="1047.0" cy="2458.5" rx="79.8" ry="43.8" transform="rotate(53.4 1047.0 2458.5)" />
<ellipse class="m" cx="1049.0" cy="2457.2" rx="33.7" ry="19.7" transform="rotate(53.5 1049.0 2457.2)" />
<g transform="translate(860,2240) scale(0.23004)">
<path class="m" d="M580 450 C590 400 640 410 700 460 C740 490 790 490 830 485 C880 500 910 560 895 600 C800 620 680 560 620 510 C590 480 580 470 580 450Z"/>
<path class="m" d="M360 680 C380 620 430 640 450 700 C480 800 500 900 495 1010 C480 1030 450 1030 420 990 C410 960 430 900 410 820 C390 760 350 720 360 680Z"/>
<path class="m" d="M1120 900 C1150 870 1200 900 1215 960 C1200 1050 1230 1120 1260 1200 C1265 1250 1250 1270 1220 1265 C1170 1220 1140 1100 1125 1000 C1115 950 1115 920 1120 900Z"/>
<path class="m" d="M720 1340 C740 1300 800 1300 860 1330 C960 1360 1030 1420 1040 1480 C1030 1500 1000 1500 970 1480 C940 1440 900 1410 850 1415 C790 1430 750 1420 730 1390 C720 1370 715 1350 720 1340Z"/>
<ellipse class="m" cx="850" cy="760" rx="24" ry="34" transform="rotate(-25 850 760)"/>
<ellipse class="m" cx="985" cy="920" rx="24" ry="34" transform="rotate(-25 985 920)"/>
<ellipse class="m" cx="1010" cy="1085" rx="24" ry="34" transform="rotate(-25 1010 1085)"/>
<ellipse class="m" cx="925" cy="1170" rx="24" ry="34" transform="rotate(-25 925 1170)"/>
<ellipse class="m" cx="780" cy="1125" rx="24" ry="34" transform="rotate(-25 780 1125)"/>
<ellipse class="m" cx="665" cy="985" rx="24" ry="34" transform="rotate(-25 665 985)"/>
<path class="m" d="M695 700 C710 680 740 700 740 730 C738 750 725 755 715 745"/>
<path class="m" d="M620 800 C640 790 660 810 655 835"/>
<ellipse class="m" cx="720" cy="305" rx="27" ry="40" transform="rotate(-25 720 305)"/>
<ellipse class="m" cx="280" cy="775" rx="27" ry="40" transform="rotate(-25 280 775)"/>
<ellipse class="m" cx="1365" cy="1115" rx="27" ry="40" transform="rotate(-25 1365 1115)"/>
<ellipse class="m" cx="920" cy="1580" rx="27" ry="40" transform="rotate(-25 920 1580)"/>
<path class="h" d="M775 670 L785 705"/>
<path class="l" d="M585 805 L712 725"/><path class="l" d="M370 945 L575 815" />
<path class="l" d="M320 985 L340 972"/><path class="l" d="M165 1085 L290 1005"/><path class="l" d="M100 1125 L125 1110"/><path class="l" d="M0 1195 L55 1155"/>
<path class="l" d="M740 985 L890 905"/><path class="l" d="M700 1020 L720 1008"/><path class="l" d="M545 1130 L680 1045"/><path class="l" d="M340 1265 L465 1185"/><path class="l" d="M185 1370 L245 1330"/>
<path class="l" d="M1140 430 L1480 205"/><path class="l" d="M1525 180 L1652 100"/>
<path class="l" d="M1310 615 L1420 545"/><path class="l" d="M1440 530 L1465 515"/><path class="l" d="M1490 500 L1640 405"/>
<path class="l" d="M1290 330 L1320 312"/>
</g>

<!-- 62_plate15.svg -->
<g transform="translate(620,2480) scale(0.20580)">
<ellipse class="" cx="1176.0" cy="505.0" rx="371.5" ry="225.7" transform="rotate(58.4 1176.0 505.0)" fill="#fff" stroke="none"/>
<path class="h" d="M981.3 188.6 A371.5 225.7 58.4 1 1 1225.2 832.0" />
<path class="h" d="M1163.4 804.6 A371.5 225.7 58.4 0 1 945.6 220.1" />
<path class="t" d="M1116.7 756.1 A358.0 213.0 58.4 1 1 1326.1 344.1" />
<path class="m" d="M1060.9 453.5 A167.0 97.7 57.1 1 1 1108.2 568.1" />
<ellipse class="m" cx="1215" cy="290" rx="22" ry="34" transform="rotate(-28 1215 290)"/>
<ellipse class="m" cx="1360" cy="470" rx="22" ry="34" transform="rotate(-28 1360 470)"/>
<ellipse class="m" cx="1390" cy="660" rx="22" ry="34" transform="rotate(-28 1390 660)"/>
<ellipse class="m" cx="1295" cy="760" rx="22" ry="34" transform="rotate(-28 1295 760)"/>
<ellipse class="m" cx="1135" cy="710" rx="22" ry="34" transform="rotate(-28 1135 710)"/>
<ellipse class="m" cx="1008" cy="550" rx="22" ry="34" transform="rotate(-28 1008 550)"/>
<path class="m" d="M1045 225 C1060 205 1090 225 1092 255 C1090 280 1075 285 1060 275"/>
<path class="m" d="M955 340 C955 370 980 385 995 370 C1000 355 995 340 990 330"/>
<path class="h" stroke-width="6" d="M1130 195 L1138 235"/>
<path class="l" d="M335 745 L355 735"/>
<path class="l" d="M385 715 L415 700"/>
<path class="l" d="M440 675 L585 580"/>
<path class="l" d="M615 555 L650 535"/>
<path class="l" d="M680 510 L825 420"/>
<path class="l" d="M860 395 L885 380"/>
<path class="l" d="M910 345 L1065 255"/>
<path class="l" d="M745 800 L775 780"/>
<path class="l" d="M800 765 L830 745"/>
<path class="l" d="M860 720 L1000 630"/>
<path class="l" d="M1035 600 L1060 588"/>
<path class="l" d="M1095 555 L1240 465"/>
<path class="l" d="M1150 190 L1245 125"/>
<path class="l" d="M1290 95 L1310 85"/>
<path class="l" d="M1345 60 L1420 10"/>
<path class="l" d="M1370 375 L1445 325"/>
<path class="wm" stroke-width="4" d="M225 790 L290 740 C315 735 335 760 330 790 L255 850 Z"/>
<path class="l" d="M245 782 L270 825"/>
<path class="l" d="M261 772 L286 814"/>
<path class="l" d="M277 762 L302 803"/>
<path class="l" d="M293 752 L318 792"/>
<path class="l" d="M309 742 L334 781"/>
<ellipse class="wm" stroke-width="4" cx="195" cy="843" rx="55" ry="66" transform="rotate(-25 195 843)"/>
<ellipse class="l" cx="188" cy="850" rx="30" ry="38" transform="rotate(-25 188 850)"/>
<path class="l" d="M165 835 L210 870 M175 875 L205 830"/>
<path class="l" d="M230 900 L232 915"/>
</g>

<!-- 70_block_q1.svg -->
<g class="blk" transform="translate(1150,1900) scale(0.19370)">
<path class="t" d="M640 105 L810 200 L1190 375 L1652 455"/>
<path class="l" d="M810 205 L690 290 L650 310 L630 370 L600 390 L470 395 L430 380 L330 440 C290 460 280 500 285 560 C300 620 340 650 380 690 L640 960 L710 1030 C740 1080 730 1130 700 1180 L650 1290 L600 1350 L560 1360 L300 1360 L250 1330 L180 1360 L140 1400 L140 1470 C150 1500 170 1520 190 1535 L250 1660 L250 1755"/>
<path class="l" d="M700 300 L820 365 L960 360 C1000 380 1040 410 1080 430 C1130 440 1160 470 1190 500 L1400 620 L1460 625 C1520 650 1550 700 1560 760 C1580 820 1620 850 1652 880"/>
<path class="l" d="M830 440 C870 435 900 440 930 480 C1000 540 1100 580 1130 620 L1180 620 C1210 590 1250 590 1290 620 L1400 700 L1440 770 C1500 810 1560 830 1600 900"/>
<path class="t" d="M810 205 L810 260 L770 290 L700 300"/><path class="l" d="M800 210 L805 270"/>
<path class="t" d="M850 220 L840 330"/><path class="t" d="M910 250 L900 340"/><path class="l" d="M930 260 L925 340"/><path class="t" d="M980 290 L975 350"/><path class="l" d="M1020 300 L1010 350"/>
<path class="t" d="M1060 330 L1040 390"/><path class="t" d="M1100 350 L1080 420"/><path class="t" d="M1120 360 L1100 425"/>
<path class="t" d="M830 290 C860 300 880 330 860 350"/><path class="t" d="M870 300 C890 310 900 330 890 345"/>
<path class="t" d="M380 430 L440 395 L600 400"/><path class="t" d="M370 440 L590 410"/>
<path class="t" d="M1190 375 L1250 440 L1210 480"/><path class="t" d="M1250 440 L1450 560 L1420 610"/><path class="t" d="M1450 560 L1500 560 L1500 440"/>
<path class="l" d="M1480 440 L1490 580"/><path class="t" d="M1520 445 L1525 590"/><path class="l" d="M1560 450 L1560 590"/><path class="t" d="M1580 455 L1575 580"/>
<path class="t" d="M1500 600 C1530 590 1560 600 1600 640 C1630 690 1640 720 1652 740"/>
<ellipse class="l" cx="715" cy="395" rx="32" ry="41" transform="rotate(-20 715 395)"/><path class="t" d="M700 370 C690 400 710 430 735 430"/>
<ellipse class="l" cx="388" cy="530" rx="32" ry="39" transform="rotate(-20 388 530)"/><path class="t" d="M372 505 C362 535 380 565 408 562"/>
<!-- triangular web -->
<path class="m" d="M470 500 L760 465 L790 450 C830 435 880 440 900 470"/>
<path class="m" d="M470 500 L470 590 L730 700"/><path class="l" d="M490 520 L750 495"/><path class="l" d="M500 540 L740 670"/>
<path class="t" d="M520 560 L720 650"/><path class="t" d="M490 505 L520 560"/><path class="t" d="M600 520 L740 600"/>
<path class="l" d="M760 465 L780 650 L740 690"/><path class="l" d="M790 500 L810 660"/><path class="t" d="M830 480 L850 650"/>
<path class="t" d="M540 520 L560 550 L530 555"/>
<!-- lower flange inner lines -->
<path class="l" d="M470 600 L430 630 C420 680 470 700 500 730 L710 960"/>
<path class="t" d="M500 610 C500 660 550 700 600 740 L740 900"/><path class="t" d="M460 720 L520 680"/>
<path class="t" d="M520 640 L720 870"/><path class="t" d="M710 960 L750 940"/>
<!-- boss circle -->
<ellipse class="m" cx="815" cy="800" rx="88" ry="112" transform="rotate(-25 815 800)"/>
<ellipse class="l" cx="815" cy="800" rx="78" ry="100" transform="rotate(-25 815 800)"/>
<ellipse class="l" cx="820" cy="805" rx="58" ry="82" transform="rotate(-25 820 805)"/>
<path class="l" d="M790 760 C790 820 830 860 870 850"/><path class="t" d="M810 760 C810 810 840 840 880 835"/>
<!-- vertical ribs -->
<path class="l" d="M905 480 L920 720"/><path class="l" d="M940 500 L955 830"/><path class="m" d="M985 540 L1000 850"/><path class="l" d="M1020 555 L1030 880"/>
<path class="m" d="M1075 570 L1075 905"/><path class="l" d="M1100 590 L1108 900"/><path class="l" d="M1130 620 L1122 905"/>
<path class="t" d="M960 520 L975 840"/><path class="t" d="M1045 560 L1050 890"/>
<path class="t" d="M860 660 L900 700 L930 740"/><path class="t" d="M880 650 L850 690"/>
<!-- diagonal rail -->
<path class="l" d="M930 850 L1520 1165"/><path class="l" d="M950 832 L1540 1148"/><path class="ds" d="M940 842 L1530 1157"/>
<path class="t" d="M1130 905 L1180 930"/>
<!-- spike -->
<path class="m" d="M895 925 L1005 1105"/><path class="l" d="M960 925 L1010 1110"/><path class="t" d="M920 930 L990 1060"/>
<!-- arcs between ear and seal -->
<path class="l" d="M720 960 C790 1040 830 1120 830 1200 L780 1340"/><path class="l" d="M750 940 C830 1020 860 1110 855 1180 L820 1240"/>
<path class="t" d="M730 1060 C770 1110 790 1170 770 1230 L720 1340"/><path class="t" d="M700 1180 L760 1210"/>
<path class="t" d="M780 1340 L710 1380 L690 1385"/><path class="t" d="M720 1340 L700 1380"/>
<!-- column -->
<path class="l" d="M1045 900 L1045 1100 L1080 1130"/><path class="l" d="M1075 905 L1080 1090"/><path class="l" d="M1130 905 L1130 1050 L1175 1050 L1180 1010"/>
<path class="t" d="M1045 1080 L1100 1060 L1130 1050"/><path class="t" d="M1100 1060 L1140 1100 L1180 1080"/>
<path class="l" d="M1180 1010 L1180 1090 L1440 1230"/><path class="t" d="M1190 1090 L1440 1200"/>
<!-- right ribs -->
<path class="m" d="M1400 700 L1405 1095"/><path class="l" d="M1440 770 L1450 1105"/><path class="m" d="M1470 800 L1480 1110"/><path class="l" d="M1510 830 L1520 1130"/>
<path class="t" d="M1420 740 L1425 1100"/><path class="l" d="M1440 1140 L1445 1300"/><path class="t" d="M1410 1280 L1445 1260"/>
<path class="m" d="M1540 1100 L1545 1160"/>
<!-- right boss partial -->
<path class="l" d="M1652 980 C1590 980 1550 1020 1545 1080"/><path class="l" d="M1652 1010 C1610 1015 1580 1040 1575 1090 C1575 1130 1600 1160 1652 1175"/>
<path class="t" d="M1652 1040 C1620 1045 1600 1070 1605 1100"/>
<path class="l" d="M1652 1180 C1580 1170 1530 1190 1520 1250 C1510 1310 1560 1370 1652 1400"/><path class="l" d="M1652 1210 C1600 1205 1560 1230 1555 1270 C1555 1310 1600 1350 1652 1365"/>
<path class="t" d="M1652 1240 C1620 1240 1600 1260 1610 1290"/>
<path class="l" d="M1560 880 C1580 960 1620 980 1652 960"/>
<!-- lower-left box -->
<path class="l" d="M290 1410 L690 1385 L700 1560 L730 1600"/><path class="m" d="M300 1470 L720 1585"/><path class="l" d="M320 1500 L700 1605"/>
<path class="l" d="M290 1410 L295 1480"/><path class="t" d="M390 1405 L390 1430 L690 1470"/><path class="t" d="M480 1400 L480 1455"/><path class="t" d="M510 1400 L510 1460"/>
<path class="t" d="M310 1420 C340 1400 380 1410 390 1440"/><path class="l" d="M330 1430 C320 1450 340 1470 370 1465"/>
<path class="l" d="M300 1520 C275 1590 310 1660 360 1680 L600 1745"/><path class="l" d="M325 1535 C305 1590 335 1640 375 1655 L590 1715"/>
<path class="t" d="M340 1540 L580 1620"/><path class="t" d="M400 1560 L460 1680"/><path class="t" d="M460 1580 L520 1700"/><path class="t" d="M380 1650 L420 1580"/>
<path class="l" d="M600 1620 L590 1750"/><path class="l" d="M640 1610 L660 1700"/><path class="t" d="M620 1640 C650 1630 670 1660 660 1700"/>
<path class="t" d="M700 1420 L690 1540 L660 1560"/>
<!-- ear hole -->
<ellipse class="m" cx="200" cy="1465" rx="45" ry="58" transform="rotate(-25 200 1465)"/><path class="l" d="M235 1420 C265 1440 270 1490 250 1520"/><path class="t" d="M180 1430 C160 1470 180 1510 215 1515"/>
<path class="t" d="M180 1360 L230 1320 L260 1325"/>
<!-- seal arcs -->
<path class="l" d="M840 1230 C900 1150 1000 1120 1100 1130 C1250 1150 1400 1250 1500 1400 C1580 1500 1630 1600 1652 1700"/>
<path class="t" d="M850 1210 C910 1130 1010 1100 1110 1110 C1260 1130 1420 1230 1520 1380"/>
<path class="l" d="M820 1290 C880 1190 980 1150 1090 1160 C1240 1180 1380 1280 1480 1420"/>
<path class="t" d="M860 1200 L1000 1140 L1160 1160"/><path class="t" d="M880 1180 L1020 1150"/>
<path class="t" d="M1175 1170 L1170 1240 L1250 1280 L1260 1230"/><path class="l" d="M1180 1180 L1280 1230 L1270 1290"/>
<path class="m" d="M800 1360 C840 1280 940 1230 1060 1240 C1180 1255 1300 1330 1380 1420"/>
<path class="t" d="M790 1420 C830 1320 930 1270 1050 1275 C1170 1290 1280 1360 1360 1450"/>
<path d="M840 1560 C860 1420 960 1340 1080 1330 C1200 1330 1330 1410 1410 1520" fill="none" stroke="#000" stroke-width="4.5"/>
<path class="l" d="M880 1500 C910 1400 1000 1360 1090 1365 C1200 1375 1310 1450 1380 1540"/>
<g class="t">
<ellipse cx="1000" cy="1255" rx="22" ry="28"/><ellipse cx="1040" cy="1250" rx="18" ry="24"/><ellipse cx="1110" cy="1270" rx="20" ry="22"/>
<ellipse cx="880" cy="1300" rx="18" ry="24"/><ellipse cx="830" cy="1370" rx="18" ry="22"/>
<ellipse cx="1230" cy="1310" rx="20" ry="24"/><ellipse cx="1280" cy="1350" rx="20" ry="24"/><ellipse cx="1330" cy="1400" rx="20" ry="24"/><ellipse cx="1380" cy="1450" rx="20" ry="24"/><ellipse cx="1420" cy="1490" rx="18" ry="22"/>
</g>
<path class="t" d="M960 1230 L980 1290 M1060 1230 L1080 1290 M1150 1260 L1140 1310 M1200 1290 L1200 1340"/>
<!-- crank flange -->
<path d="M850 1590 C890 1440 1010 1395 1150 1425 C1300 1470 1450 1620 1520 1755" fill="none" stroke="#000" stroke-width="4.5"/>
<path d="M850 1590 C845 1540 850 1500 870 1460" fill="none" stroke="#000" stroke-width="7"/>
<path class="l" d="M870 1755 C850 1700 850 1640 855 1590"/>
<path class="m" d="M985 1460 C1000 1440 1035 1450 1045 1480 C1050 1510 1035 1525 1015 1520"/>
<ellipse class="m" cx="1185" cy="1525" rx="36" ry="46" transform="rotate(-20 1185 1525)"/><path class="l" d="M1165 1560 C1190 1575 1215 1560 1220 1540"/>
<path class="m" d="M895 1590 C900 1620 930 1625 945 1600 C950 1580 940 1565 930 1560"/>
<ellipse class="m" cx="1340" cy="1705" rx="34" ry="42" transform="rotate(-20 1340 1705)"/><path class="l" d="M1320 1735 C1340 1750 1365 1740 1372 1720"/>
<path class="h" d="M1085 1440 L1095 1470"/>
<path class="m" d="M990 1755 C980 1660 1030 1590 1110 1580 C1200 1580 1290 1660 1320 1755"/>
<path class="l" d="M1030 1755 C1020 1680 1060 1620 1120 1610 C1190 1610 1260 1680 1290 1755"/>
<path class="t" d="M1010 1755 C1000 1670 1045 1605 1115 1595"/>
<path class="l" d="M1100 1755 C1080 1700 1090 1660 1120 1650"/><path class="l" d="M1150 1755 C1130 1710 1140 1680 1160 1670"/>
<path class="m" d="M1470 1520 C1520 1580 1580 1660 1610 1755"/><path class="l" d="M1500 1500 C1560 1570 1620 1650 1652 1740"/><path class="l" d="M1440 1540 C1490 1600 1540 1680 1570 1755"/>
<path class="h" d="M1610 1540 L1652 1520"/>
<!-- axis lines into hole -->
<path class="l" d="M860 1585 L1020 1480"/><path class="l" d="M800 1625 L830 1605"/>
<path class="l" d="M760 1460 L830 1450 L820 1520 L770 1530Z"/><path class="t" d="M790 1455 L790 1525"/>
<path class="l" d="M770 1540 L750 1640 L810 1660"/><path class="t" d="M800 1530 L790 1640"/>
<path class="l" d="M610 1755 L760 1660"/><path class="t" d="M730 1600 L700 1755"/><path class="l" d="M840 1620 L860 1755"/>
<path class="l" d="M760 1740 C780 1710 820 1710 840 1740"/>
</g>

<!-- 71_block_q2.svg -->
<g class="blk" transform="translate(1450,1900) scale(0.19370)">
<path class="l" d="M100 470 L130 480 L390 515 L960 150 L1335 1220 L1100 1755"/>
<path class="t" d="M570 420 L575 600"/><path class="l" d="M690 335 L715 710"/><path class="l" d="M775 280 L805 790"/><path class="l" d="M870 215 L915 740"/>
<path class="t" d="M885 210 L925 650 C930 700 915 740 880 750 L805 795"/><path class="t" d="M510 450 L520 520"/>
<path class="l" d="M905 230 C880 300 900 400 950 420"/><path class="l" d="M930 220 C960 200 1000 250 1010 320 C1020 380 990 420 950 425"/>
<path class="t" d="M930 260 C915 310 925 370 955 390"/><path class="t" d="M950 250 C975 250 990 290 990 330 C990 370 975 395 955 400"/><path class="t" d="M945 290 C940 320 945 350 960 365"/>
<path class="t" d="M945 440 L945 490 L1060 430"/><path class="t" d="M910 570 L1065 480"/><path class="t" d="M1010 330 L1040 350"/>
<!-- boss top-left -->
<ellipse class="l" cx="470" cy="645" rx="80" ry="135" transform="rotate(18 470 645)"/>
<ellipse class="t" cx="470" cy="645" rx="68" ry="120" transform="rotate(18 470 645)"/>
<ellipse class="l" cx="462" cy="650" rx="52" ry="100" transform="rotate(18 462 650)"/>
<ellipse class="t" cx="458" cy="652" rx="38" ry="82" transform="rotate(18 458 652)"/>
<path class="t" d="M440 600 C430 650 440 700 460 720"/><path class="t" d="M480 560 L520 590"/><path class="l" d="M500 740 L510 780"/>
<path class="l" d="M375 515 L395 860"/><path class="l" d="M390 520 L410 850"/><path class="l" d="M195 495 L215 880"/><path class="l" d="M250 500 L270 880"/>
<path class="l" d="M100 760 C130 820 180 870 215 880"/><path class="t" d="M100 800 C130 850 170 890 200 900"/>
<path class="t" d="M140 870 L170 830"/><path class="t" d="M180 930 L210 880 L230 940"/>
<path class="l" d="M400 850 L690 705"/><path class="l" d="M410 895 L660 740 C720 810 780 820 805 795"/>
<path class="t" d="M560 620 L600 615 L700 700 L690 710"/><path class="t" d="M540 690 L580 660 L650 740"/><path class="t" d="M400 800 L500 750"/>
<path class="l" d="M215 950 L340 860 L400 870"/><path class="t" d="M260 940 L350 880 C390 900 410 950 410 1000"/>
<!-- bracket -->
<path class="m" d="M100 1010 C160 960 230 975 250 1020 L300 1130 C340 1200 400 1260 440 1340 C480 1380 530 1400 550 1460 L560 1600 L600 1755"/>
<path class="m" d="M100 1100 C160 1120 220 1140 260 1200 L330 1280 C380 1330 400 1380 410 1430 C440 1480 470 1500 480 1560 L520 1755"/>
<path d="M250 1020 L300 1130 C340 1200 400 1260 440 1340" fill="none" stroke="#000" stroke-width="4"/>
<path d="M545 1500 L560 1600 L590 1720" fill="none" stroke="#000" stroke-width="4.5"/>
<ellipse class="m" cx="185" cy="1040" rx="32" ry="40" transform="rotate(-20 185 1040)"/><path class="l" d="M165 1065 C185 1085 210 1075 218 1050"/>
<ellipse class="m" cx="480" cy="1410" rx="32" ry="40" transform="rotate(-20 480 1410)"/><path class="l" d="M460 1435 C480 1455 505 1445 513 1420"/>
<!-- diagonal arm -->
<path class="m" d="M340 1000 C360 1080 420 1130 460 1170 L620 1330"/><path class="l" d="M370 990 C400 1060 440 1100 480 1140 L640 1300"/>
<path class="l" d="M320 975 L350 960 L380 985"/><path class="t" d="M310 1080 L340 1060 L420 1150 L390 1180"/>
<path class="t" d="M330 1110 L400 1090"/><path class="t" d="M350 1140 L410 1110"/><path class="t" d="M380 1200 L440 1160"/><path class="t" d="M440 1260 L500 1210 L540 1250"/>
<path class="t" d="M460 1280 L520 1270"/><path class="l" d="M620 1330 C640 1380 640 1420 630 1460"/>
<!-- middle boss -->
<ellipse class="l" cx="775" cy="1035" rx="85" ry="135" transform="rotate(22 775 1035)"/>
<ellipse class="t" cx="775" cy="1035" rx="72" ry="120" transform="rotate(22 775 1035)"/>
<ellipse class="l" cx="768" cy="1040" rx="55" ry="98" transform="rotate(22 768 1040)"/>
<ellipse class="t" cx="764" cy="1042" rx="40" ry="80" transform="rotate(22 764 1042)"/>
<path class="l" d="M650 990 C660 920 720 870 790 880 C840 890 870 930 870 980"/><path class="t" d="M680 980 C690 930 730 895 790 900"/>
<path class="l" d="M870 1030 L1185 820"/><path class="l" d="M460 1090 L640 990"/><path class="t" d="M480 1110 L660 1010"/><path class="t" d="M520 1180 L600 1040"/>
<path class="t" d="M560 1230 L680 1170 L720 1200"/><path class="t" d="M620 1200 L640 1280"/><path class="t" d="M680 1170 L700 1230 L760 1190"/>
<path class="t" d="M640 1060 L660 1160"/><path class="t" d="M630 1100 L680 1090 M635 1130 L690 1120"/>
<path class="l" d="M800 1180 L840 1280"/><path class="t" d="M830 1170 L860 1270"/><ellipse class="t" cx="850" cy="1305" rx="14" ry="18"/><ellipse class="t" cx="880" cy="1300" rx="12" ry="16"/>
<!-- right -->
<path class="t" d="M1130 620 C1090 680 1090 760 1130 810"/><path class="t" d="M1150 680 C1130 720 1140 780 1170 800"/>
<path class="l" d="M960 960 C940 900 960 850 1010 840 C1040 850 1030 900 1020 960"/><path class="t" d="M985 870 C975 900 980 930 990 950"/>
<path class="l" d="M1185 820 L1230 900"/><path class="t" d="M1100 880 L1130 990"/><path class="t" d="M1150 860 L1160 960"/>
<path class="l" d="M960 1000 L1080 1080"/><path class="l" d="M980 980 L1050 1030"/>
<path class="t" d="M880 1050 C900 1100 900 1150 880 1200"/><path class="t" d="M920 1020 C940 1080 940 1150 900 1220"/>
<path class="t" d="M890 1090 L930 1080 M890 1130 L935 1125 M880 1170 L925 1170"/>
<ellipse class="l" cx="1060" cy="1162" rx="15" ry="26" transform="rotate(15 1060 1162)"/>
<path class="l" d="M1010 1180 C1020 1130 1060 1100 1100 1100 L1130 1180 L1160 1190 L1150 1400"/>
<path class="l" d="M1010 1180 C1000 1230 980 1270 940 1290 L880 1260"/><path class="t" d="M880 1260 L1000 1180"/>
<path class="t" d="M1150 1400 L800 1420 L780 1450"/><path class="l" d="M1150 1400 C1200 1380 1260 1350 1300 1330"/>
<path class="l" d="M1335 1220 C1300 1250 1250 1240 1200 1200 C1170 1160 1160 1100 1180 1040 C1190 1000 1200 960 1230 900"/>
<path class="t" d="M1290 1200 C1260 1200 1230 1170 1220 1130 C1210 1080 1220 1030 1250 980"/>
<path class="t" d="M1180 1130 L1220 1120 M1190 1170 L1225 1155 M1240 1000 L1270 1040 M1260 1100 L1270 1140"/>
<path class="t" d="M1060 1020 C1080 990 1110 980 1140 985"/><path class="t" d="M1080 1050 C1100 1020 1130 1010 1150 1015"/>
<!-- lower right band -->
<path class="l" d="M790 1640 L1240 1400"/><path class="l" d="M830 1700 L1220 1480"/><path class="l" d="M880 1755 L1200 1570"/>
<path class="t" d="M860 1590 L900 1650 M900 1570 L940 1630 M940 1550 L980 1600 M980 1520 L1020 1580 M1020 1500 L1060 1560 M1060 1480 L1090 1530"/>
<path class="t" d="M870 1640 L930 1580 M910 1620 L960 1560 M950 1590 L1010 1530 M1000 1560 L1050 1500"/>
<path class="k" d="M860 1600 L890 1580 L880 1620Z M980 1530 L1010 1515 L1000 1550Z M1030 1500 L1060 1480 L1050 1520Z"/>
<path class="l" d="M640 1490 C650 1440 700 1400 750 1380 L800 1420"/><path class="l" d="M640 1490 L660 1700"/><path class="t" d="M680 1480 L700 1650"/>
<path class="t" d="M700 1440 L760 1640"/><path class="t" d="M720 1420 L780 1640"/><path class="t" d="M740 1650 C730 1620 760 1610 770 1640"/>
<path class="t" d="M660 1700 L760 1755"/><path class="t" d="M780 1640 L900 1755"/>
<path class="t" d="M940 1640 L940 1755 M980 1620 L980 1755 M1010 1600 L1010 1755 M1040 1590 L1040 1755"/>
<path class="t" d="M560 1540 L600 1560 L570 1600"/><path class="l" d="M560 1470 L640 1500"/>
<!-- lower-left -->
<path class="m" d="M80 1540 L420 1430"/><path class="l" d="M100 1565 L410 1462"/><path class="t" d="M120 1560 L150 1500"/>
<path class="l" d="M250 1520 L250 1755"/><path class="t" d="M240 1520 L240 1755"/><path class="l" d="M330 1500 L340 1755"/><path class="l" d="M370 1490 L370 1755"/>
<path class="t" d="M160 1740 L520 1720"/><path class="t" d="M330 1660 L370 1660 M330 1700 L370 1700"/>
<path class="t" d="M100 1180 C150 1200 200 1260 200 1320 C200 1380 150 1400 100 1390"/><path class="t" d="M100 1420 C180 1430 240 1380 250 1300 C250 1250 230 1200 210 1170"/>
<path class="t" d="M280 1400 L400 1340"/><path class="t" d="M300 1440 L400 1390"/>
</g>

<!-- 72_block_q3.svg -->
<g class="blk" transform="translate(1150,2240) scale(0.19370)">
<path class="l" d="M250 0 L225 60 L300 200 L380 340 L460 440 L640 645 L680 625 L740 625 L780 640"/>
<path class="l" d="M260 30 C300 20 400 50 440 70 L380 130 L300 140 L260 80 Z"/><path class="t" d="M290 40 C330 40 390 60 420 80"/><path class="t" d="M300 130 C320 100 340 60 330 30"/>
<ellipse class="l" cx="432" cy="215" rx="32" ry="40" transform="rotate(-20 432 215)"/><path class="t" d="M415 240 C435 258 460 248 466 225"/>
<path class="l" d="M470 140 C500 180 510 230 500 290"/><path class="m" d="M530 160 L590 170 L560 240 L520 300"/><path class="l" d="M540 200 L600 260 L640 330"/>
<path class="m" d="M480 340 C520 300 545 340 525 385 C500 430 470 420 470 380"/><path class="m" d="M550 430 C570 480 590 500 580 520 L550 500 L540 440"/>
<path class="l" d="M600 400 L640 470"/><path class="l" d="M620 380 L650 440"/><path class="t" d="M560 330 L620 300 L680 330"/>
<path class="m" d="M600 180 L640 290"/><path class="m" d="M630 200 L670 300"/>
<!-- top dense area -->
<path class="m" d="M650 120 L900 240"/><path class="l" d="M660 90 L930 220"/><path class="l" d="M600 60 L660 90"/><path class="l" d="M500 0 L560 40 L520 70"/>
<ellipse class="l" cx="750" cy="50" rx="42" ry="45"/><ellipse class="t" cx="750" cy="52" rx="28" ry="30"/><path class="t" d="M720 20 L780 80 M780 20 L720 80"/>
<path class="l" d="M690 20 C700 60 720 100 760 110"/><path class="l" d="M680 100 L690 200 L760 230"/><path class="l" d="M800 100 L830 180 L780 200"/>
<path class="t" d="M840 0 L880 60 L860 120"/><path class="l" d="M900 0 L920 70"/><path class="t" d="M700 160 L820 210"/><path class="t" d="M710 130 L730 200"/>
<path class="m" d="M700 230 L760 260"/><path class="l" d="M930 220 L960 300 L940 330"/><path class="l" d="M950 200 C970 230 980 260 970 300"/>
<!-- dashes -->
<path class="l" d="M930 150 L770 250"/><path class="l" d="M680 310 L520 415"/><path class="l" d="M430 490 L275 590"/><path class="l" d="M230 625 L210 640"/><path class="l" d="M150 680 L60 740"/>
<path class="l" d="M570 45 L390 160"/><path class="l" d="M320 205 L295 220"/><path class="l" d="M250 250 L100 350"/><path class="l" d="M60 375 L40 390"/>
<path class="l" d="M1000 100 L960 125"/>
<!-- block bottom-left -->
<path class="l" d="M640 645 L650 460 L700 440 L760 290 L800 280 L920 380 L930 440"/><path class="l" d="M800 280 L790 620"/><path class="l" d="M850 330 L830 650"/>
<path class="t" d="M680 460 L670 630"/><path class="l" d="M700 440 L790 480"/><path class="t" d="M740 300 L730 440"/><path class="t" d="M610 400 L650 460"/>
<path class="t" d="M820 650 L900 600 L910 620 L830 670"/>
<path class="l" d="M780 640 L780 800 L920 900 L970 880 L1000 870 L1180 885 L1230 850 L1390 770 L1400 650"/>
<path class="l" d="M780 800 C780 700 790 660 800 650 L940 730 L935 900"/>
<ellipse class="l" cx="850" cy="775" rx="32" ry="38" transform="rotate(-20 850 775)"/>
<path class="l" d="M940 440 L935 890"/><path class="m" d="M965 470 L970 880"/><path class="l" d="M1000 480 L1000 870"/><path class="l" d="M1150 500 L1130 880"/><path class="l" d="M1210 470 L1195 870"/>
<path class="t" d="M910 380 L905 720"/><path class="t" d="M880 350 L870 690"/>
<path class="l" d="M920 380 L1000 400 L1070 380 L1090 440 C1110 490 1160 490 1180 460 L1210 470 L1220 380 L1000 290"/>
<path class="t" d="M990 360 L1040 350 L1060 380"/><path class="t" d="M960 440 L1020 430 L1020 460"/>
<ellipse class="l" cx="1130" cy="450" rx="36" ry="38"/>
<path class="l" d="M1200 480 L1340 580 L1340 640 L1400 650"/><path class="l" d="M1340 580 L1600 640"/><path class="t" d="M1340 610 L1590 670"/>
<path d="M1200 500 L1652 690" fill="none" stroke="#000" stroke-width="4"/><path class="l" d="M1230 560 L1330 620"/>
<path class="t" d="M1340 650 L1400 740"/><path class="t" d="M1320 640 L1340 650"/>
<!-- right foot -->
<path class="l" d="M1400 660 L1410 1000 L1400 1160 L1520 1225 L1560 1215 L1652 1180"/><path class="l" d="M1410 1000 L1560 1080 L1560 1215"/>
<ellipse class="l" cx="1487" cy="1125" rx="30" ry="38" transform="rotate(-20 1487 1125)"/>
<path class="l" d="M1450 680 L1460 1020"/><path class="l" d="M1520 700 L1530 1060"/><path class="m" d="M1560 710 L1565 1080"/><path class="l" d="M1620 720 L1600 1080"/>
<path class="t" d="M1470 990 L1530 950 L1540 970"/><path class="t" d="M1600 1080 L1652 1040"/><path class="t" d="M1590 1080 L1585 1210"/>
<!-- crank flange bottom -->
<path d="M970 150 C1000 250 1100 320 1250 340 C1350 340 1420 300 1460 220" fill="none" stroke="#000" stroke-width="4"/>
<path class="l" d="M1020 90 C1060 200 1150 280 1260 290 C1340 290 1400 250 1430 180"/>
<ellipse class="m" cx="1090" cy="205" rx="34" ry="42" transform="rotate(-25 1090 205)"/><path class="l" d="M1075 235 C1095 250 1120 240 1125 215"/>
<ellipse class="m" cx="1270" cy="268" rx="34" ry="42" transform="rotate(-25 1270 268)"/><path class="l" d="M1255 298 C1275 312 1300 302 1305 278"/>
<ellipse class="m" cx="1375" cy="175" rx="34" ry="45" transform="rotate(-15 1375 175)"/><path class="l" d="M1355 205 C1375 222 1400 212 1408 188"/>
<path class="m" d="M1040 90 C1080 150 1150 190 1220 180 C1280 160 1300 90 1290 0"/><path class="l" d="M1070 70 C1100 120 1150 150 1210 145 C1250 130 1270 80 1260 0"/>
<path class="t" d="M1090 50 C1120 100 1160 125 1205 120 C1235 105 1245 60 1240 0"/>
<path class="l" d="M1130 60 L1200 50 M1165 55 L1160 100"/><path class="t" d="M1040 100 L1180 10"/>
<path class="m" d="M1500 0 C1510 100 1480 230 1400 320"/><path class="l" d="M1540 0 C1550 120 1520 250 1440 340 C1380 390 1300 400 1250 395"/>
<path class="t" d="M1470 0 C1480 90 1460 200 1390 290"/><path class="t" d="M1600 0 C1600 120 1570 260 1480 360"/>
<path class="k" d="M1240 345 L1300 350 L1290 372 L1250 365Z"/>
<!-- bottom-right clutter -->
<path class="l" d="M1380 400 C1400 450 1440 480 1480 470"/><path class="l" d="M1400 390 C1420 430 1450 450 1490 440"/>
<path class="t" d="M1390 420 L1415 405 M1405 445 L1430 425 M1430 465 L1450 442 M1460 472 L1470 447"/>
<path class="l" d="M1300 400 L1240 470 L1210 470"/><path class="t" d="M1320 420 L1260 490"/><path class="t" d="M1350 440 L1340 560"/><path class="t" d="M1380 480 L1400 580"/>
<path class="l" d="M1480 380 L1560 340 L1652 420"/><path class="t" d="M1500 400 L1560 370 L1640 440"/>
<ellipse class="l" cx="1570" cy="470" rx="30" ry="34"/><ellipse class="t" cx="1570" cy="472" rx="18" ry="20"/>
<path class="t" d="M1500 480 L1540 540 L1620 560"/><path class="t" d="M1450 500 L1480 560"/>
<ellipse class="t" cx="1620" cy="370" rx="16" ry="20"/><path class="l" d="M1560 100 C1590 120 1610 150 1600 200"/><path class="t" d="M1540 130 L1600 110"/>
<path class="l" d="M1652 330 L1600 330 L1560 340"/><path class="t" d="M1240 420 L1300 440 M1230 450 L1290 470"/>
</g>

<!-- 73_block_q4.svg -->
<g class="blk" transform="translate(1450,2240) scale(0.19370)">
<path class="l" d="M1100 0 L1030 150 L1275 580 L1195 1065"/>
<path d="M520 0 L560 200 L590 350 C640 400 700 430 720 480 L722 520" fill="none" stroke="#000" stroke-width="4"/>
<path class="m" d="M600 0 L630 200 L660 350 C700 420 760 470 790 520"/>
<ellipse class="m" cx="622" cy="482" rx="55" ry="65" transform="rotate(-20 622 482)"/><path class="l" d="M640 425 C680 430 700 470 690 510 C680 540 660 550 640 548"/>
<path class="m" d="M720 520 L780 560 L830 580 L830 650 L590 800 L540 790 L545 720 L480 740 L450 850 L410 860 L330 800 L155 730 L150 700 L420 620 C480 580 560 560 640 540 L720 500"/>
<path class="l" d="M420 620 L440 650 C500 620 600 600 700 560 L780 560"/><path class="t" d="M480 740 L830 585"/><path class="t" d="M680 580 C700 560 740 570 740 590"/>
<path class="t" d="M330 800 L420 640"/><path class="t" d="M590 800 L580 720 L545 720"/>
<path d="M410 860 L420 950 C440 1000 460 1040 460 1080" fill="none" stroke="#000" stroke-width="4"/>
<path class="m" d="M460 1080 L440 1180 L300 1220 L150 1240 L150 1080 L200 1040 L330 1000 L330 900 L260 850 L230 820"/>
<ellipse class="l" cx="375" cy="1045" rx="32" ry="40" transform="rotate(-25 375 1045)"/>
<path class="m" d="M215 1100 L280 1065 L320 1090 L320 1150 L260 1195 L215 1170 Z"/><path class="l" d="M230 1140 L300 1100 M250 1100 L290 1170"/><ellipse class="l" cx="270" cy="1140" rx="18" ry="22"/>
<path class="l" d="M440 1180 L450 1230 L350 1250 L300 1240"/><path class="t" d="M300 1220 L300 1245 M350 1215 L350 1250"/>
<path class="l" d="M540 800 L545 900 C560 950 580 980 570 1040 L520 1100 L440 1140"/><path class="t" d="M420 900 L540 830"/><path class="t" d="M430 960 L550 900"/>
<path class="l" d="M580 800 L580 880 L640 880 L720 900 L720 740"/><path class="m" d="M710 760 L712 890"/>
<path class="l" d="M830 500 L1110 340 L1120 380 L840 540"/><path class="t" d="M840 470 L1080 330"/>
<path class="l" d="M520 1110 L850 1110 C900 1100 920 1060 925 1010 L940 700 L960 430"/><path class="t" d="M600 1090 L840 1085 C880 1075 900 1050 905 1010"/>
<path class="l" d="M630 880 L620 1110"/><path class="l" d="M680 900 L680 1110"/><path class="l" d="M740 950 L740 1110"/><path class="l" d="M800 960 L800 1110"/>
<path class="l" d="M870 520 L860 900 C850 940 830 960 800 960 L750 950 L720 900"/><path class="t" d="M900 500 L885 880"/><path class="t" d="M770 680 L770 950"/><path class="t" d="M795 670 L795 955"/>
<path class="l" d="M920 470 L905 1000"/><path class="t" d="M940 450 L935 700"/>
<path class="l" d="M940 960 L1040 960 C1100 950 1180 920 1200 860 L1240 560"/><path class="l" d="M1040 430 L1045 960"/><path class="l" d="M1160 440 L1140 900"/><path class="t" d="M1210 500 L1190 860"/>
<path class="l" d="M1020 400 L1020 530 L1050 530"/><path class="t" d="M925 1010 C1000 920 1100 930 1190 880"/><path class="t" d="M1220 760 L1245 750"/>
<!-- upper middle -->
<path d="M190 0 L520 60" fill="none" stroke="#000" stroke-width="4"/>
<path class="m" d="M170 150 L540 380"/><path class="l" d="M200 140 L560 360"/><path class="l" d="M180 200 L170 400 C200 450 260 500 330 540 L440 610"/>
<path class="l" d="M250 80 L260 430"/><path class="l" d="M330 100 L330 440"/><path class="l" d="M370 50 L380 460"/><path class="t" d="M270 260 L260 420"/>
<path class="l" d="M150 0 L180 300"/><path class="l" d="M100 0 L120 350"/><path class="t" d="M130 0 L160 320"/>
<path class="t" d="M240 90 L240 160 L270 160"/><ellipse class="t" cx="70" cy="375" rx="14" ry="16"/>
<path class="t" d="M290 180 L340 190 M300 200 L330 205"/><path class="l" d="M380 190 L500 250 L520 240"/><path class="t" d="M370 220 L500 280"/>
<path class="l" d="M530 160 L560 330"/><path class="l" d="M500 280 C490 310 510 340 540 350"/><path class="t" d="M545 180 L540 260"/>
<path class="l" d="M170 400 L430 540 L450 600"/><path class="t" d="M430 540 L520 430"/><path class="t" d="M440 480 L500 430"/><path class="t" d="M330 440 L440 510"/>
<path class="l" d="M260 560 C290 530 350 540 380 580"/><path class="t" d="M280 600 C300 570 340 575 360 600"/><path class="t" d="M270 640 L300 700 M380 620 L360 720"/>
<path class="l" d="M100 400 L160 430 L180 520 L240 540"/><path class="t" d="M100 440 L150 470 L150 560"/><path class="t" d="M120 520 L230 580"/>
<path class="m" d="M100 600 L160 620 L150 700"/><path class="l" d="M100 660 L150 690"/>
<path class="l" d="M100 780 L110 1000"/><path class="l" d="M170 760 L175 1040"/><path class="m" d="M215 800 L218 1020"/><path class="m" d="M255 830 L258 1000"/>
<path class="t" d="M100 900 L160 910"/><path class="t" d="M280 860 C320 880 330 920 310 960"/><ellipse class="t" cx="285" cy="940" rx="12" ry="16"/>
<path class="l" d="M100 1060 L150 1030"/><path class="l" d="M100 1200 L150 1160"/><path class="t" d="M100 1020 L200 1000"/>
<!-- right upper -->
<path class="l" d="M600 300 L700 200 L780 80"/><path class="t" d="M640 320 L780 70"/><path class="t" d="M660 240 L720 230"/><path class="l" d="M620 60 L780 60"/><path class="t" d="M700 0 L760 60"/>
<path class="l" d="M760 260 C750 300 740 360 750 400 L860 400 L860 300 C850 260 830 240 800 240 Z"/><path class="t" d="M750 330 C790 345 830 345 860 330"/><path class="t" d="M790 240 L790 220 L830 220 L830 245"/>
<path class="l" d="M960 220 C980 180 1020 170 1040 190"/><ellipse class="l" cx="1030" cy="235" rx="24" ry="34" transform="rotate(15 1030 235)"/><path class="l" d="M950 250 C950 290 980 310 1010 300"/>
<path class="t" d="M880 300 L880 400"/><path class="t" d="M910 280 L910 380"/><path class="l" d="M930 250 L990 150"/><path class="t" d="M880 230 L930 200 L950 230"/>
<path class="l" d="M830 0 L820 200"/><path class="l" d="M900 0 L890 180"/><path class="t" d="M780 60 L800 220"/><path class="t" d="M860 0 L850 190"/>
<path class="t" d="M960 40 L1000 60 L980 100"/><path class="t" d="M930 0 L1020 60"/>
<path class="l" d="M700 360 C720 400 740 440 740 480"/><path class="t" d="M780 420 L820 430 L830 490"/>
</g>

<!-- 75_block_clutter.svg -->
<clipPath id="cpblk"><polygon points="1307,1940 1284,1956 1272,1972 1233,1974 1214,1985 1205,2008 1224,2034 1274,2086 1287,2100 1286,2129 1266,2161 1208,2163 1177,2171 1177,2185 1198,2221 1194,2252 1239,2325 1274,2365 1301,2364 1301,2395 1328,2414 1379,2411 1419,2389 1421,2465 1444,2477 1479,2480 1537,2478 1551,2455 1615,2455 1629,2436 1632,2426 1682,2407 1697,2352 1650,2269 1663,2240 1709,2136 1636,1929 1525,2000 1475,1993 1380,1973"/></clipPath>
<g clip-path="url(#cpblk)">
<path d="M1290.9 2247.8 l0.2 6.7 M1307.9 2259.0 l6.2 9.2 M1268.0 2262.5 l3.8 5.8 M1299.0 2283.0 l4.2 7.1 M1315.2 2289.3 l1.0 9.9 M1343.1 2242.4 l-1.4 8.8 M1276.5 2246.1 l4.9 13.3 M1279.5 2270.2 l0.4 9.7 M1308.8 2243.3 l4.5 6.7 M1319.4 2262.2 l4.1 11.1 M1301.3 2255.6 l-1.3 12.9 M1284.5 2269.9 l2.2 14.6 M1323.4 2255.0 l-2.0 6.9 M1298.4 2279.4 l5.2 9.5 M1268.1 2274.7 l-0.9 11.7 M1335.0 2256.3 l-0.1 11.9 M1311.4 2263.7 l-2.2 15.3 M1302.9 2274.5 l7.2 10.8 M1528.2 2374.1 l-1.5 8.7 M1504.7 2330.3 l4.7 9.5 M1485.1 2255.8 l5.7 12.4 M1481.6 2273.4 l2.5 14.5 M1477.3 2300.6 l0.7 14.8 M1543.7 2356.6 l2.6 9.8 M1502.3 2359.4 l-2.0 7.2 M1485.9 2271.3 l3.2 10.4 M1523.0 2275.5 l4.7 9.1 M1503.2 2316.5 l-3.4 12.4 M1516.4 2323.4 l-0.3 6.5 M1551.0 2345.3 l-2.9 13.7 M1505.3 2293.9 l4.8 11.4 M1475.6 2249.1 l2.4 7.2 M1500.6 2247.1 l3.5 6.7 M1479.1 2289.1 l6.5 13.2 M1525.3 2260.1 l2.6 9.1 M1502.8 2256.6 l-3.0 15.7 M1511.9 2305.3 l2.8 6.4 M1500.8 2275.7 l-1.3 7.5 M1472.1 2368.4 l0.5 7.5 M1518.9 2243.7 l1.0 15.8 M1547.7 2334.0 l2.6 9.3 M1485.0 2344.2 l0.8 13.8 M1499.7 2270.1 l-2.5 15.7 M1546.7 2348.8 l-2.2 13.2 M1490.4 2309.9 l1.3 6.2 M1472.5 2277.7 l3.5 12.4 M1556.1 2300.4 l-4.0 15.4 M1556.0 2289.2 l2.5 7.9 M1487.7 2267.6 l-0.2 15.0 M1545.6 2304.7 l-0.5 14.0 M1477.6 2329.2 l-3.2 13.4 M1607.5 2125.6 l10.7 8.9 M1553.2 2153.1 l0.0 10.0 M1562.2 2165.5 l2.1 7.4 M1526.5 2097.8 l1.1 14.0 M1529.0 2155.3 l-0.1 12.6 M1555.6 2131.6 l4.9 3.7 M1636.2 2140.2 l7.3 13.5 M1566.4 2159.1 l1.3 8.0 M1542.7 2109.9 l8.6 8.2 M1543.7 2120.6 l12.1 9.0 M1556.0 2123.9 l6.3 13.7 M1564.7 2163.0 l5.6 9.8 M1578.1 2086.6 l4.4 6.5 M1510.5 2152.9 l8.3 6.8 M1604.3 2132.3 l7.3 8.4 M1582.2 2151.7 l9.5 6.7 M1542.3 2108.5 l2.5 10.8 M1583.0 2149.6 l0.7 10.4 M1589.6 2128.0 l6.3 11.3 M1568.8 2130.3 l8.0 13.2 M1600.9 2159.5 l0.3 8.6 M1582.7 2165.2 l1.1 7.3 M1525.8 2122.6 l7.0 4.6 M1519.5 2141.9 l3.1 14.6 M1530.1 2145.9 l2.5 7.0 M1624.8 2167.2 l11.5 10.5 M1561.8 2126.4 l-0.2 14.3 M1531.0 2121.7 l4.6 8.2 M1535.4 2112.1 l1.7 6.0 M1582.0 2122.4 l8.1 4.6 M1591.1 2128.5 l13.4 8.5 M1612.5 2167.6 l7.1 5.0 M1515.1 2151.2 l5.1 5.2 M1364.9 2193.4 l5.2 6.9 M1329.4 2193.9 l10.6 7.5 M1321.6 2129.3 l7.4 7.1 M1319.4 2195.4 l10.8 8.9 M1320.9 2189.2 l14.6 -0.3 M1369.0 2150.4 l12.7 8.5 M1344.8 2134.7 l7.1 4.4 M1324.2 2137.1 l8.0 -0.3 M1350.6 2147.9 l5.9 6.7 M1375.0 2138.3 l5.8 2.0 M1342.6 2126.2 l7.9 8.4 M1334.6 2160.6 l3.4 6.2 M1416.5 2157.4 l12.5 7.1 M1361.1 2163.0 l11.5 10.9 M1354.6 2187.4 l8.8 8.7 M1362.6 2151.1 l7.3 -0.3 M1319.2 2180.6 l7.5 1.6 M1321.0 2188.1 l7.0 10.6 M1346.7 2143.2 l10.2 2.8 M1330.5 2158.4 l15.2 3.5 M1436.4 2166.0 l15.3 3.1 M1350.2 2151.7 l9.8 -1.0 M1371.7 2162.7 l10.9 1.6 M1310.6 2144.8 l10.0 0.1 M1315.4 2126.7 l8.0 2.3 M1386.1 2164.7 l8.4 9.4 M1403.1 2190.9 l8.6 3.5 M1468.7 2312.5 l6.0 10.9 M1388.7 2346.8 l3.5 11.8 M1447.4 2345.6 l10.6 3.7 M1427.9 2346.7 l5.6 13.1 M1434.6 2349.6 l6.8 11.0 M1404.5 2306.6 l9.1 3.1 M1393.9 2346.8 l8.0 9.3 M1438.2 2339.0 l4.3 4.2 M1452.8 2342.4 l8.0 8.1 M1441.0 2308.3 l4.0 7.5 M1391.3 2318.3 l3.8 7.1 M1447.9 2353.8 l7.0 6.9 M1425.7 2339.2 l5.3 11.0 M1439.6 2308.9 l8.0 2.9 M1448.2 2320.2 l3.9 4.7 M1390.2 2318.4 l7.0 10.9 M1442.4 2319.5 l7.4 7.7 M1424.6 2310.9 l2.3 7.7 M1688.0 2235.9 l-1.5 10.5 M1673.8 2237.9 l-4.0 7.7 M1618.9 2236.5 l-3.5 11.3 M1612.8 2209.1 l-5.6 4.7 M1673.8 2208.1 l-9.6 8.8 M1620.8 2233.4 l-3.1 5.4 M1600.3 2207.0 l-4.2 8.0 M1612.7 2197.4 l-5.3 13.4 M1600.2 2223.8 l-5.1 5.1 M1683.4 2221.3 l-6.6 5.9 M1633.5 2200.5 l-9.4 7.2 M1632.5 2202.8 l-2.2 6.1 M1609.2 2229.3 l-5.3 14.4 M1622.4 2192.3 l-4.0 6.8 M1633.6 2237.2 l-10.4 9.6 M1656.8 2234.4 l-8.8 7.4 M1664.8 2178.2 l-6.8 8.0 M1667.7 2216.9 l-2.3 6.1 M1683.4 2183.3 l-4.5 8.3 M1320.8 2059.1 l-1.0 8.5 M1345.9 2024.1 l0.2 9.9 M1311.7 2012.9 l1.9 14.9 M1334.8 2017.6 l-1.5 15.9 M1331.5 2011.2 l0.9 6.8 M1323.9 2007.3 l1.0 8.5 M1339.9 2071.0 l-0.4 10.1 M1329.0 2041.9 l0.7 9.4 M1304.3 2022.2 l-0.8 7.2 M1335.2 2050.4 l-0.6 8.1 M1319.0 2019.9 l0.7 10.4 M1366.8 2067.9 l-0.5 6.2 M1302.3 2056.8 l-1.0 10.7 M1341.1 2000.0 l1.1 15.2 M1272.6 2229.9 l5.9 6.1 M1200.9 2180.8 l12.0 4.6 M1284.1 2220.5 l12.1 6.4 M1235.7 2208.6 l13.8 -1.2 M1213.3 2234.4 l8.0 4.2 M1202.8 2187.6 l11.5 6.0 M1201.2 2174.9 l11.0 4.3 M1228.8 2185.7 l5.5 2.6 M1220.2 2202.2 l8.8 8.8 M1278.4 2203.3 l8.4 0.8 M1286.1 2219.3 l6.1 1.0 M1239.8 2217.2 l8.3 2.3 M1256.7 2234.8 l6.3 0.6 M1223.8 2199.4 l6.9 4.0 M1269.7 2221.7 l7.6 2.8 M1287.0 2191.8 l6.6 5.0 M1212.1 2223.2 l15.3 2.4 M1239.6 2183.1 l10.1 0.9 M1256.5 2236.4 l9.9 0.2 M1203.4 2298.4 l5.6 3.3 M1186.6 2263.6 l4.7 14.1 M1260.6 2299.9 l2.7 8.9 M1200.4 2296.2 l2.8 5.6 M1253.1 2262.7 l6.8 6.4 M1198.6 2240.2 l7.5 5.9 M1285.1 2247.4 l2.1 7.8 M1219.2 2289.3 l4.0 9.5 M1185.4 2268.4 l11.1 10.4 M1201.2 2261.9 l2.0 6.0 M1225.2 2288.7 l2.8 5.8 M1183.8 2243.8 l2.6 8.2 M1262.2 2293.9 l6.6 5.8 M1285.3 2277.0 l10.5 8.0 M1214.8 2256.5 l12.5 5.3 M1280.8 2278.0 l1.7 6.0 M1458.7 2032.8 l-2.8 15.3 M1470.9 2012.6 l0.7 10.9 M1514.2 2006.5 l-1.4 13.3 M1505.8 2059.6 l-0.1 9.3 M1465.6 2022.6 l-0.7 6.8 M1455.8 2057.8 l1.0 6.6 M1442.7 2039.7 l1.8 15.7 M1510.7 2078.9 l1.0 6.8 M1447.7 2034.9 l-0.7 10.4 M1458.7 2027.5 l-0.3 12.7 M1499.8 2066.2 l-0.3 7.2 M1507.3 2016.4 l0.0 9.7 M1499.0 2007.9 l1.3 8.4 M1452.3 2069.6 l-0.0 9.3 M1591.7 2329.5 l-0.0 8.3 M1624.7 2305.7 l-2.1 6.7 M1598.0 2317.3 l-3.2 14.8 M1563.2 2280.6 l1.9 7.7 M1637.8 2300.8 l-2.6 9.4 M1629.3 2291.4 l2.1 13.6 M1635.7 2267.4 l-0.7 12.2 M1577.4 2285.8 l1.8 7.8 M1580.4 2302.0 l-0.8 8.0 M1560.9 2282.9 l-0.9 7.8 M1585.0 2274.2 l-2.1 11.3 M1565.1 2267.1 l0.8 11.5 M1611.1 2266.4 l2.7 12.7 M1592.8 2279.8 l1.9 15.4 M1585.0 2299.7 l0.9 10.1 M1629.1 2329.8 l0.7 7.9 M1381.0 2360.3 l2.3 14.8 M1359.7 2406.5 l0.8 14.8 M1362.3 2357.2 l1.7 11.4 M1374.8 2413.2 l1.6 12.1 M1356.0 2382.8 l1.0 8.8 M1366.5 2414.4 l1.4 10.8 M1386.3 2417.5 l0.8 7.2 M1396.0 2418.2 l0.3 6.5 M1394.8 2374.1 l-0.7 12.2 M1387.7 2357.0 l-0.3 8.2 M1358.3 2408.5 l-0.3 7.8" fill="none" stroke="#000" stroke-width="1.3" stroke-linecap="round"/>
<ellipse cx="1301.2" cy="2269.1" rx="4.8" ry="5.8" fill="none" stroke="#000" stroke-width="1.3"/>
<ellipse cx="1302.3" cy="2266.4" rx="4.0" ry="4.8" fill="none" stroke="#000" stroke-width="1.3"/>
<ellipse cx="1279.8" cy="2266.6" rx="4.1" ry="4.9" fill="none" stroke="#000" stroke-width="1.3"/>
<ellipse cx="1328.4" cy="2244.9" rx="3.3" ry="3.9" fill="none" stroke="#000" stroke-width="1.3"/>
<ellipse cx="1478.2" cy="2349.3" rx="4.2" ry="5.1" fill="none" stroke="#000" stroke-width="1.3"/>
<ellipse cx="1473.8" cy="2372.6" rx="4.9" ry="5.9" fill="none" stroke="#000" stroke-width="1.3"/>
<ellipse cx="1528.9" cy="2323.1" rx="2.9" ry="3.5" fill="none" stroke="#000" stroke-width="1.3"/>
<ellipse cx="1471.4" cy="2311.3" rx="2.6" ry="3.2" fill="none" stroke="#000" stroke-width="1.3"/>
<ellipse cx="1487.1" cy="2272.7" rx="2.6" ry="3.1" fill="none" stroke="#000" stroke-width="1.3"/>
<ellipse cx="1511.8" cy="2299.5" rx="4.6" ry="5.5" fill="none" stroke="#000" stroke-width="1.3"/>
<ellipse cx="1516.7" cy="2326.4" rx="3.7" ry="4.5" fill="none" stroke="#000" stroke-width="1.3"/>
<ellipse cx="1596.1" cy="2123.9" rx="3.2" ry="3.8" fill="none" stroke="#000" stroke-width="1.3"/>
<ellipse cx="1639.7" cy="2169.6" rx="4.6" ry="5.5" fill="none" stroke="#000" stroke-width="1.3"/>
<ellipse cx="1602.0" cy="2111.8" rx="3.1" ry="3.7" fill="none" stroke="#000" stroke-width="1.3"/>
<ellipse cx="1547.6" cy="2091.0" rx="4.4" ry="5.3" fill="none" stroke="#000" stroke-width="1.3"/>
<ellipse cx="1562.1" cy="2157.0" rx="3.5" ry="4.2" fill="none" stroke="#000" stroke-width="1.3"/>
<ellipse cx="1634.5" cy="2157.0" rx="2.5" ry="3.0" fill="none" stroke="#000" stroke-width="1.3"/>
<ellipse cx="1537.3" cy="2162.4" rx="3.7" ry="4.4" fill="none" stroke="#000" stroke-width="1.3"/>
<ellipse cx="1437.4" cy="2154.8" rx="2.7" ry="3.2" fill="none" stroke="#000" stroke-width="1.3"/>
<ellipse cx="1391.8" cy="2183.4" rx="3.2" ry="3.8" fill="none" stroke="#000" stroke-width="1.3"/>
<ellipse cx="1321.3" cy="2149.9" rx="4.9" ry="5.9" fill="none" stroke="#000" stroke-width="1.3"/>
<ellipse cx="1408.5" cy="2133.8" rx="3.1" ry="3.7" fill="none" stroke="#000" stroke-width="1.3"/>
<ellipse cx="1323.1" cy="2129.5" rx="4.5" ry="5.4" fill="none" stroke="#000" stroke-width="1.3"/>
<ellipse cx="1333.1" cy="2166.9" rx="3.6" ry="4.3" fill="none" stroke="#000" stroke-width="1.3"/>
<ellipse cx="1401.2" cy="2341.6" rx="2.8" ry="3.4" fill="none" stroke="#000" stroke-width="1.3"/>
<ellipse cx="1439.7" cy="2310.8" rx="3.6" ry="4.3" fill="none" stroke="#000" stroke-width="1.3"/>
<ellipse cx="1403.1" cy="2318.5" rx="4.9" ry="5.9" fill="none" stroke="#000" stroke-width="1.3"/>
<ellipse cx="1453.3" cy="2320.2" rx="4.7" ry="5.7" fill="none" stroke="#000" stroke-width="1.3"/>
<ellipse cx="1619.0" cy="2200.6" rx="4.6" ry="5.6" fill="none" stroke="#000" stroke-width="1.3"/>
<ellipse cx="1657.8" cy="2181.5" rx="5.0" ry="6.0" fill="none" stroke="#000" stroke-width="1.3"/>
<ellipse cx="1619.2" cy="2191.8" rx="4.4" ry="5.3" fill="none" stroke="#000" stroke-width="1.3"/>
<ellipse cx="1629.6" cy="2194.3" rx="2.7" ry="3.2" fill="none" stroke="#000" stroke-width="1.3"/>
</g>

<!-- 90_labels.svg -->
<g class="ld">
<path d="M1176 390L1179 516"/>
<path d="M1520 393L1660 387"/>
<path d="M668 479L671 646"/>
<path d="M358 1065L455 1068"/>
<path d="M384 1282L452 1284"/>
<path d="M762.6 1310L761.4 1436"/>
<path d="M311 1480L311.6 1573"/>
<path d="M1749 1058L1751 1153"/>
<path d="M1984.5 1038L1981.6 1102"/>
<path d="M1341 1142L1343.5 1280"/>
<path d="M2042.6 1345L2039.7 1447"/>
<path d="M1588.8 1601L1588.8 1687"/>
<path d="M151 2009.7L235 2007"/>
<path d="M350 2118L618 2236"/>
<path d="M521 2068L629 2218"/>
<path d="M649 2028L649 2215"/>
<path d="M826 1980L669 2218"/>
<path d="M971 1928L677 2224"/>
<path d="M993.6 2184L989.6 2263"/>
<path d="M829.6 2444L828 2517"/>
<path d="M655 2575L658 2638"/>
<path d="M539 2653L645 2649"/>
<path d="M1214 2547.5L1324 2550"/>
</g>
<g class="n" style="filter:grayscale(1)">
<text x="1175" y="366">4</text>
<text x="1695" y="399">6</text>
<text x="667" y="454">5</text>
<text x="321" y="1078">4</text>
<text x="346.5" y="1293">3</text>
<text x="762" y="1286">2</text>
<text x="310" y="1454">1</text>
<text x="1748" y="1034">9</text>
<text x="1984" y="1013">7</text>
<text x="1340" y="1117">11</text>
<text x="1170" y="1289">12</text>
<text x="2038.5" y="1495">8</text>
<text x="1589" y="1736">10</text>
<text x="114" y="2022">19</text>
<text x="650" y="2264">18</text>
<text x="994" y="2161">13</text>
<text x="829" y="2420">15</text>
<text x="655" y="2550">16</text>
<text x="503" y="2664">17</text>
<text x="1360" y="2562">14</text>
</g>
<g id="footfix"><rect x="300.0" y="1449.0" width="7.1" height="6.5" fill="#fff"/><rect x="313.9" y="1449.0" width="5.9" height="6.5" fill="#fff"/><rect x="1320.6" y="1112.0" width="8.5" height="6.5" fill="#fff"/><rect x="1335.9" y="1112.0" width="4.4" height="6.5" fill="#fff"/><rect x="1339.5" y="1112.0" width="6.6" height="6.5" fill="#fff"/><rect x="1352.9" y="1112.0" width="6.3" height="6.5" fill="#fff"/><rect x="1150.6" y="1284.0" width="7.5" height="6.5" fill="#fff"/><rect x="1164.9" y="1284.0" width="5.4" height="6.5" fill="#fff"/><rect x="1569.6" y="1731.0" width="7.5" height="6.5" fill="#fff"/><rect x="1583.9" y="1731.0" width="5.4" height="6.5" fill="#fff"/><rect x="94.6" y="2017.0" width="7.5" height="6.5" fill="#fff"/><rect x="108.9" y="2017.0" width="5.4" height="6.5" fill="#fff"/><rect x="630.6" y="2259.0" width="7.5" height="6.5" fill="#fff"/><rect x="644.9" y="2259.0" width="5.4" height="6.5" fill="#fff"/><rect x="974.6" y="2156.0" width="7.5" height="6.5" fill="#fff"/><rect x="988.9" y="2156.0" width="5.4" height="6.5" fill="#fff"/><rect x="809.6" y="2415.0" width="7.5" height="6.5" fill="#fff"/><rect x="823.9" y="2415.0" width="5.4" height="6.5" fill="#fff"/><rect x="635.6" y="2545.0" width="7.5" height="6.5" fill="#fff"/><rect x="649.9" y="2545.0" width="5.4" height="6.5" fill="#fff"/><rect x="483.6" y="2659.0" width="7.5" height="6.5" fill="#fff"/><rect x="497.9" y="2659.0" width="5.4" height="6.5" fill="#fff"/><rect x="1340.6" y="2557.0" width="7.5" height="6.5" fill="#fff"/><rect x="1354.9" y="2557.0" width="5.4" height="6.5" fill="#fff"/></g>
<rect x="1709" y="982" width="91" height="91" fill="#ff0000" fill-opacity="0.5"/>

</svg>
</body></html>
